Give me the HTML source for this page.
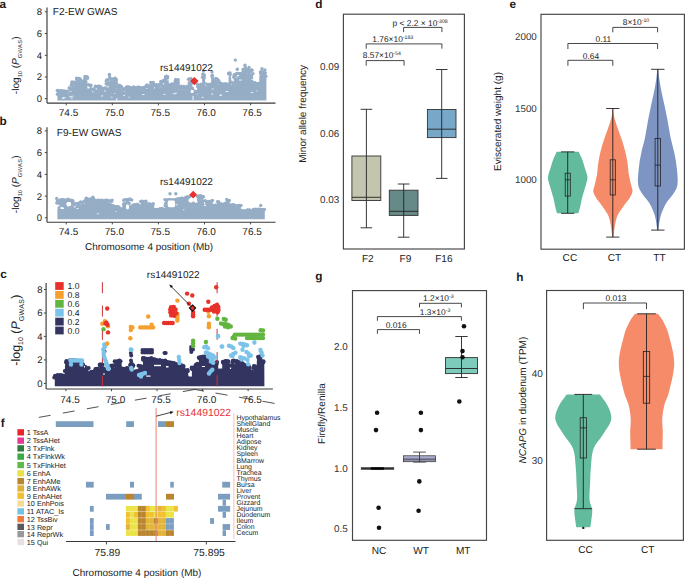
<!DOCTYPE html><html><head><meta charset="utf-8"><style>html,body{margin:0;padding:0;background:#fff;}svg{display:block;}text{font-family:"Liberation Sans",sans-serif;text-rendering:geometricPrecision;}</style></head><body>
<svg width="685" height="578" viewBox="0 0 685 578">
<rect width="685" height="578" fill="#fff"/>
<text x="-0.6" y="8" font-size="11.8" text-anchor="start" fill="#1a1a1a" font-weight="bold">a</text>
<text x="-0.4" y="124.8" font-size="11.8" text-anchor="start" fill="#1a1a1a" font-weight="bold">b</text>
<text x="0.2" y="277.6" font-size="11.8" text-anchor="start" fill="#1a1a1a" font-weight="bold">c</text>
<text x="0.8" y="426.9" font-size="11.8" text-anchor="start" fill="#1a1a1a" font-weight="bold">f</text>
<text x="315.2" y="8.2" font-size="11.8" text-anchor="start" fill="#1a1a1a" font-weight="bold">d</text>
<text x="509.4" y="8.2" font-size="11.8" text-anchor="start" fill="#1a1a1a" font-weight="bold">e</text>
<text x="315.2" y="280.2" font-size="11.8" text-anchor="start" fill="#1a1a1a" font-weight="bold">g</text>
<text x="516.3" y="280.9" font-size="11.8" text-anchor="start" fill="#1a1a1a" font-weight="bold">h</text>
<path d="M57.4,100.6 L57.4,94.3 L68.7,94.3 L68.7,91.4 L71.6,91.4 L71.6,85.5 L76.3,85.5 L76.3,81.4 L79.8,81.4 L79.8,83.8 L83.9,83.8 L83.9,80.3 L87.4,80.3 L87.4,88.4 L92,88.4 L92,92.5 L94.4,92.5 L94.4,89.6 L101.4,89.6 L101.4,91.4 L106.1,91.4 L106.1,83.2 L108.4,83.2 L108.4,77.3 L109.6,77.3 L109.6,82 L116,82 L116,88.4 L121.2,89 L121.2,91.9 L125.9,91.9 L125.9,90.8 L144.9,90.8 L144.9,89 L150.7,89 L150.7,86.1 L154.2,86.1 L154.2,88.4 L161.2,88.4 L161.2,84.4 L164.1,84.4 L164.1,80.3 L168.8,80.3 L168.8,87.8 L175.2,87.8 L175.2,83.2 L178.7,83.2 L178.7,90.2 L188.1,90.2 L188.1,82.6 L192.2,82.6 L192.7,94.4 L197.4,94.4 L197.4,88.4 L202.1,88.4 L202.1,76.8 L205,77.8 L205.5,88 L211.2,88 L211.2,78.3 L213.3,78.3 L213.3,84.9 L216,81.9 L219,84.9 L220.4,87.5 L228.6,87.5 L228.6,76.2 L231.2,76.2 L231.2,85.9 L233.7,85.9 L233.7,77.4 L240.9,77.4 L240.9,75.7 L245,75.7 L245,73.7 L253.1,73.7 L253.1,86.4 L259.3,86.4 L259.3,75.7 L266.4,75.7 L266.4,98.6 L266.4,100.6Z" fill="#96adc6"/>
<g fill="#96adc6"><circle cx="57.3" cy="90.5" r="1.7"/><circle cx="57.4" cy="94.3" r="1.7"/><circle cx="58.3" cy="91" r="1.7"/><circle cx="58.6" cy="91.7" r="1.7"/><circle cx="58.6" cy="94.9" r="1.7"/><circle cx="59.7" cy="90.6" r="1.7"/><circle cx="60.5" cy="92.4" r="1.7"/><circle cx="60.6" cy="93.9" r="1.7"/><circle cx="61.6" cy="90.7" r="1.7"/><circle cx="60.8" cy="92" r="1.7"/><circle cx="62.3" cy="91.1" r="1.7"/><circle cx="62.4" cy="92.3" r="1.7"/><circle cx="62.1" cy="94.1" r="1.7"/><circle cx="64" cy="90.9" r="1.7"/><circle cx="64" cy="92.2" r="1.7"/><circle cx="64.3" cy="94.7" r="1.7"/><circle cx="65" cy="91.1" r="1.7"/><circle cx="65.7" cy="92.5" r="1.7"/><circle cx="65.8" cy="94" r="1.7"/><circle cx="66.4" cy="91.4" r="1.7"/><circle cx="66.5" cy="91.7" r="1.7"/><circle cx="68" cy="91.1" r="1.7"/><circle cx="68" cy="94.6" r="1.7"/><circle cx="69.2" cy="88" r="1.7"/><circle cx="70.4" cy="88.4" r="1.7"/><circle cx="70.6" cy="89.5" r="1.7"/><circle cx="72" cy="81.9" r="1.7"/><circle cx="71.9" cy="82.9" r="1.7"/><circle cx="71.3" cy="85.2" r="1.7"/><circle cx="72.6" cy="82.6" r="1.7"/><circle cx="72.7" cy="83.3" r="1.7"/><circle cx="74" cy="82.1" r="1.7"/><circle cx="74.8" cy="83.8" r="1.7"/><circle cx="75.4" cy="82.1" r="1.7"/><circle cx="76.1" cy="84" r="1.7"/><circle cx="75.2" cy="85.3" r="1.7"/><circle cx="76.7" cy="78.1" r="1.7"/><circle cx="76.6" cy="78.8" r="1.7"/><circle cx="76.7" cy="81.6" r="1.7"/><circle cx="78.6" cy="78.4" r="1.7"/><circle cx="78.3" cy="79.6" r="1.7"/><circle cx="78.7" cy="81.9" r="1.7"/><circle cx="79.8" cy="78.6" r="1.7"/><circle cx="79.4" cy="78.9" r="1.7"/><circle cx="79" cy="81" r="1.7"/><circle cx="80.6" cy="80" r="1.7"/><circle cx="80.3" cy="81.2" r="1.7"/><circle cx="80.3" cy="83.8" r="1.7"/><circle cx="81.7" cy="81.1" r="1.7"/><circle cx="81.7" cy="81.5" r="1.7"/><circle cx="81.9" cy="83.5" r="1.7"/><circle cx="83.7" cy="81.2" r="1.7"/><circle cx="83.4" cy="81.3" r="1.7"/><circle cx="83.2" cy="83.7" r="1.7"/><circle cx="85" cy="76.5" r="1.7"/><circle cx="85.2" cy="78.3" r="1.7"/><circle cx="84.8" cy="79.9" r="1.7"/><circle cx="86" cy="77.7" r="1.7"/><circle cx="87.1" cy="76.8" r="1.7"/><circle cx="87.6" cy="78.3" r="1.7"/><circle cx="88.5" cy="84.7" r="1.7"/><circle cx="90.2" cy="85.6" r="1.7"/><circle cx="91" cy="85.1" r="1.7"/><circle cx="90.6" cy="85.8" r="1.7"/><circle cx="90.9" cy="88.8" r="1.7"/><circle cx="92.9" cy="89.1" r="1.7"/><circle cx="94.2" cy="89" r="1.7"/><circle cx="93.5" cy="90.1" r="1.7"/><circle cx="93.9" cy="93.1" r="1.7"/><circle cx="95.4" cy="86.3" r="1.7"/><circle cx="96.1" cy="86.6" r="1.7"/><circle cx="97.9" cy="86.3" r="1.7"/><circle cx="98" cy="87.4" r="1.7"/><circle cx="99.4" cy="86.2" r="1.7"/><circle cx="99.5" cy="87.8" r="1.7"/><circle cx="98.6" cy="89.3" r="1.7"/><circle cx="100.6" cy="86.8" r="1.7"/><circle cx="100.7" cy="88.1" r="1.7"/><circle cx="101.5" cy="88.2" r="1.7"/><circle cx="101" cy="89.9" r="1.7"/><circle cx="101.6" cy="92.1" r="1.7"/><circle cx="102.8" cy="88.7" r="1.7"/><circle cx="102.6" cy="91.3" r="1.7"/><circle cx="104" cy="88.2" r="1.7"/><circle cx="104.1" cy="88.9" r="1.7"/><circle cx="105.4" cy="88" r="1.7"/><circle cx="106" cy="89.3" r="1.7"/><circle cx="106.8" cy="80" r="1.7"/><circle cx="106.2" cy="81.1" r="1.7"/><circle cx="106.2" cy="83.7" r="1.7"/><circle cx="107.8" cy="79.9" r="1.7"/><circle cx="107.9" cy="83.4" r="1.7"/><circle cx="109.4" cy="74.4" r="1.7"/><circle cx="109.5" cy="75" r="1.7"/><circle cx="109.7" cy="77.5" r="1.7"/><circle cx="110.7" cy="79.1" r="1.7"/><circle cx="110.8" cy="82.2" r="1.7"/><circle cx="112" cy="79" r="1.7"/><circle cx="112" cy="79.9" r="1.7"/><circle cx="113.5" cy="79.3" r="1.7"/><circle cx="113.4" cy="82.7" r="1.7"/><circle cx="114.9" cy="78.2" r="1.7"/><circle cx="114.5" cy="79.4" r="1.7"/><circle cx="114.1" cy="82.4" r="1.7"/><circle cx="116.1" cy="79.3" r="1.7"/><circle cx="116.2" cy="80.2" r="1.7"/><circle cx="116.4" cy="82.7" r="1.7"/><circle cx="117" cy="85.9" r="1.7"/><circle cx="117.2" cy="87.1" r="1.7"/><circle cx="118.2" cy="85.3" r="1.7"/><circle cx="118.3" cy="86.3" r="1.7"/><circle cx="118.8" cy="88.3" r="1.7"/><circle cx="119.8" cy="85.5" r="1.7"/><circle cx="119.6" cy="86.9" r="1.7"/><circle cx="119.3" cy="89.6" r="1.7"/><circle cx="121.3" cy="86.4" r="1.7"/><circle cx="120.8" cy="86.4" r="1.7"/><circle cx="122.2" cy="88.1" r="1.7"/><circle cx="122.9" cy="90.2" r="1.7"/><circle cx="122" cy="92.6" r="1.7"/><circle cx="123.8" cy="88.9" r="1.7"/><circle cx="123.2" cy="90.1" r="1.7"/><circle cx="123.2" cy="92.6" r="1.7"/><circle cx="125.1" cy="89.1" r="1.7"/><circle cx="125.4" cy="89.3" r="1.7"/><circle cx="126.3" cy="87.3" r="1.7"/><circle cx="126.8" cy="88.5" r="1.7"/><circle cx="126.3" cy="90.6" r="1.7"/><circle cx="127.3" cy="87" r="1.7"/><circle cx="127.2" cy="88.5" r="1.7"/><circle cx="127.9" cy="90.7" r="1.7"/><circle cx="128.9" cy="87" r="1.7"/><circle cx="128.3" cy="88.5" r="1.7"/><circle cx="129.2" cy="91" r="1.7"/><circle cx="130" cy="87.5" r="1.7"/><circle cx="130.6" cy="90.9" r="1.7"/><circle cx="131.5" cy="88" r="1.7"/><circle cx="131.5" cy="89" r="1.7"/><circle cx="132.7" cy="88" r="1.7"/><circle cx="132.7" cy="90.8" r="1.7"/><circle cx="133.7" cy="87" r="1.7"/><circle cx="134.4" cy="88.5" r="1.7"/><circle cx="133.6" cy="91.4" r="1.7"/><circle cx="135.7" cy="87.8" r="1.7"/><circle cx="135.1" cy="88.5" r="1.7"/><circle cx="135" cy="90.9" r="1.7"/><circle cx="136.5" cy="88.2" r="1.7"/><circle cx="136.4" cy="91.5" r="1.7"/><circle cx="137.8" cy="87.3" r="1.7"/><circle cx="137.9" cy="88.7" r="1.7"/><circle cx="137.6" cy="91" r="1.7"/><circle cx="138.9" cy="87.2" r="1.7"/><circle cx="139.2" cy="88.2" r="1.7"/><circle cx="139.1" cy="90.6" r="1.7"/><circle cx="140.7" cy="87.6" r="1.7"/><circle cx="142.1" cy="88.1" r="1.7"/><circle cx="141.7" cy="89.3" r="1.7"/><circle cx="142.2" cy="91.1" r="1.7"/><circle cx="142.8" cy="88" r="1.7"/><circle cx="143.5" cy="91.3" r="1.7"/><circle cx="144.2" cy="87.5" r="1.7"/><circle cx="144.9" cy="89.1" r="1.7"/><circle cx="145.9" cy="86.3" r="1.7"/><circle cx="146.9" cy="85" r="1.7"/><circle cx="146.9" cy="86.5" r="1.7"/><circle cx="148.4" cy="85.9" r="1.7"/><circle cx="148.6" cy="86.9" r="1.7"/><circle cx="148.8" cy="89.5" r="1.7"/><circle cx="149.7" cy="85.8" r="1.7"/><circle cx="150" cy="88.9" r="1.7"/><circle cx="150.7" cy="82.5" r="1.7"/><circle cx="151.3" cy="86.8" r="1.7"/><circle cx="152.3" cy="82.6" r="1.7"/><circle cx="152.5" cy="84.4" r="1.7"/><circle cx="152.5" cy="85.8" r="1.7"/><circle cx="153.3" cy="82.4" r="1.7"/><circle cx="153.7" cy="85.7" r="1.7"/><circle cx="154.5" cy="84.8" r="1.7"/><circle cx="156.3" cy="84.8" r="1.7"/><circle cx="156.2" cy="86.3" r="1.7"/><circle cx="156.7" cy="88.2" r="1.7"/><circle cx="157.9" cy="85.8" r="1.7"/><circle cx="157.5" cy="86.7" r="1.7"/><circle cx="158.8" cy="84.8" r="1.7"/><circle cx="159.3" cy="86" r="1.7"/><circle cx="158.4" cy="88.6" r="1.7"/><circle cx="160.5" cy="84.6" r="1.7"/><circle cx="160.6" cy="88.8" r="1.7"/><circle cx="161.2" cy="81.7" r="1.7"/><circle cx="160.8" cy="81.8" r="1.7"/><circle cx="161.3" cy="84.3" r="1.7"/><circle cx="162.4" cy="80.9" r="1.7"/><circle cx="163.1" cy="81.8" r="1.7"/><circle cx="164.3" cy="80.5" r="1.7"/><circle cx="165.6" cy="76.7" r="1.7"/><circle cx="165.2" cy="78.9" r="1.7"/><circle cx="165.1" cy="80.4" r="1.7"/><circle cx="166.4" cy="76.3" r="1.7"/><circle cx="167" cy="78" r="1.7"/><circle cx="167.7" cy="76.7" r="1.7"/><circle cx="167.5" cy="78.1" r="1.7"/><circle cx="169.5" cy="85" r="1.7"/><circle cx="169.7" cy="86.3" r="1.7"/><circle cx="169.5" cy="87.4" r="1.7"/><circle cx="170.7" cy="84.4" r="1.7"/><circle cx="170.2" cy="87.4" r="1.7"/><circle cx="172.1" cy="84" r="1.7"/><circle cx="171.6" cy="85.5" r="1.7"/><circle cx="173.5" cy="84.2" r="1.7"/><circle cx="173.2" cy="87.8" r="1.7"/><circle cx="174.1" cy="84" r="1.7"/><circle cx="174.9" cy="85.8" r="1.7"/><circle cx="174.9" cy="88.6" r="1.7"/><circle cx="175.7" cy="79.4" r="1.7"/><circle cx="175.2" cy="81" r="1.7"/><circle cx="175.4" cy="83.1" r="1.7"/><circle cx="177.1" cy="80.5" r="1.7"/><circle cx="176.9" cy="83.4" r="1.7"/><circle cx="178.2" cy="79.7" r="1.7"/><circle cx="178" cy="81.7" r="1.7"/><circle cx="178.3" cy="83.5" r="1.7"/><circle cx="179.9" cy="86.5" r="1.7"/><circle cx="179.3" cy="88" r="1.7"/><circle cx="180.1" cy="90.8" r="1.7"/><circle cx="181.2" cy="86.2" r="1.7"/><circle cx="181.2" cy="88.6" r="1.7"/><circle cx="181" cy="89.8" r="1.7"/><circle cx="182.1" cy="87.6" r="1.7"/><circle cx="183.9" cy="86.5" r="1.7"/><circle cx="183.1" cy="88.2" r="1.7"/><circle cx="185.2" cy="87.2" r="1.7"/><circle cx="185.1" cy="88.1" r="1.7"/><circle cx="184.2" cy="90.7" r="1.7"/><circle cx="185.9" cy="87.5" r="1.7"/><circle cx="185.9" cy="87.7" r="1.7"/><circle cx="186.3" cy="90.6" r="1.7"/><circle cx="187.1" cy="86.3" r="1.7"/><circle cx="187.5" cy="88" r="1.7"/><circle cx="187.5" cy="89.8" r="1.7"/><circle cx="188.5" cy="79.3" r="1.7"/><circle cx="189.2" cy="82.7" r="1.7"/><circle cx="189.8" cy="78.9" r="1.7"/><circle cx="191.1" cy="78.6" r="1.7"/><circle cx="191.5" cy="80.5" r="1.7"/><circle cx="191.5" cy="83.3" r="1.7"/><circle cx="192.4" cy="88.1" r="1.7"/><circle cx="192.5" cy="90.2" r="1.7"/><circle cx="193" cy="92.5" r="1.7"/><circle cx="193.9" cy="90.7" r="1.7"/><circle cx="194.3" cy="94.2" r="1.7"/><circle cx="195" cy="91.5" r="1.7"/><circle cx="195.7" cy="92.4" r="1.7"/><circle cx="194.9" cy="94.5" r="1.7"/><circle cx="196.6" cy="91.8" r="1.7"/><circle cx="196.4" cy="92" r="1.7"/><circle cx="197.5" cy="84.4" r="1.7"/><circle cx="197.7" cy="86.8" r="1.7"/><circle cx="199.3" cy="85.9" r="1.7"/><circle cx="198.7" cy="89.1" r="1.7"/><circle cx="200.6" cy="84.4" r="1.7"/><circle cx="200.2" cy="88.4" r="1.7"/><circle cx="201.4" cy="84.4" r="1.7"/><circle cx="201.5" cy="86.9" r="1.7"/><circle cx="202.3" cy="88.2" r="1.7"/><circle cx="202.9" cy="74.3" r="1.7"/><circle cx="202.5" cy="77.2" r="1.7"/><circle cx="204.2" cy="74.9" r="1.7"/><circle cx="204.1" cy="76" r="1.7"/><circle cx="204.2" cy="78.1" r="1.7"/><circle cx="205.8" cy="84" r="1.7"/><circle cx="205.1" cy="86.5" r="1.7"/><circle cx="205.9" cy="88.6" r="1.7"/><circle cx="206.8" cy="84.4" r="1.7"/><circle cx="206.6" cy="88.4" r="1.7"/><circle cx="208.1" cy="84.4" r="1.7"/><circle cx="208.5" cy="86.5" r="1.7"/><circle cx="208.7" cy="87.6" r="1.7"/><circle cx="209.3" cy="84.7" r="1.7"/><circle cx="210.7" cy="84.3" r="1.7"/><circle cx="210.8" cy="86.5" r="1.7"/><circle cx="211.2" cy="88.4" r="1.7"/><circle cx="212.4" cy="75.4" r="1.7"/><circle cx="211.9" cy="76" r="1.7"/><circle cx="212.4" cy="78" r="1.7"/><circle cx="213.2" cy="81.9" r="1.7"/><circle cx="212.9" cy="82.2" r="1.7"/><circle cx="213.2" cy="85.5" r="1.7"/><circle cx="215" cy="80.8" r="1.7"/><circle cx="214.2" cy="80.8" r="1.7"/><circle cx="215" cy="83.4" r="1.7"/><circle cx="215.8" cy="78.5" r="1.7"/><circle cx="216.2" cy="80.2" r="1.7"/><circle cx="217.4" cy="79.3" r="1.7"/><circle cx="217.4" cy="83.2" r="1.7"/><circle cx="218.8" cy="80.8" r="1.7"/><circle cx="218.3" cy="82" r="1.7"/><circle cx="220" cy="83" r="1.7"/><circle cx="220.5" cy="84.5" r="1.7"/><circle cx="220.3" cy="86.9" r="1.7"/><circle cx="221.6" cy="83.6" r="1.7"/><circle cx="221.6" cy="85.9" r="1.7"/><circle cx="222.1" cy="83.9" r="1.7"/><circle cx="222.1" cy="86" r="1.7"/><circle cx="223" cy="87.5" r="1.7"/><circle cx="224.1" cy="84.1" r="1.7"/><circle cx="224.1" cy="86" r="1.7"/><circle cx="223.9" cy="87.8" r="1.7"/><circle cx="224.9" cy="84" r="1.7"/><circle cx="224.7" cy="85.2" r="1.7"/><circle cx="225.3" cy="87.3" r="1.7"/><circle cx="226" cy="84" r="1.7"/><circle cx="226.2" cy="87.3" r="1.7"/><circle cx="227.9" cy="84.3" r="1.7"/><circle cx="227.2" cy="85.3" r="1.7"/><circle cx="227.9" cy="87.2" r="1.7"/><circle cx="228.7" cy="73.2" r="1.7"/><circle cx="228.7" cy="73.9" r="1.7"/><circle cx="230.1" cy="73" r="1.7"/><circle cx="230.2" cy="74.6" r="1.7"/><circle cx="231.5" cy="82.2" r="1.7"/><circle cx="231" cy="86.5" r="1.7"/><circle cx="232.8" cy="83.1" r="1.7"/><circle cx="233.4" cy="83.8" r="1.7"/><circle cx="232.3" cy="86.1" r="1.7"/><circle cx="234.3" cy="74.7" r="1.7"/><circle cx="234.3" cy="75.2" r="1.7"/><circle cx="233.8" cy="77.3" r="1.7"/><circle cx="235.5" cy="74.7" r="1.7"/><circle cx="235.5" cy="75.7" r="1.7"/><circle cx="236.6" cy="73.5" r="1.7"/><circle cx="238.1" cy="73.4" r="1.7"/><circle cx="238.6" cy="77.7" r="1.7"/><circle cx="239.7" cy="73.6" r="1.7"/><circle cx="239.3" cy="78" r="1.7"/><circle cx="241" cy="73.6" r="1.7"/><circle cx="240.6" cy="75.4" r="1.7"/><circle cx="240.2" cy="77.3" r="1.7"/><circle cx="242.2" cy="73" r="1.7"/><circle cx="242.1" cy="74" r="1.7"/><circle cx="242.4" cy="75.4" r="1.7"/><circle cx="243.4" cy="72.5" r="1.7"/><circle cx="243.1" cy="73.6" r="1.7"/><circle cx="243.2" cy="76.1" r="1.7"/><circle cx="244.6" cy="72.3" r="1.7"/><circle cx="244.7" cy="73.6" r="1.7"/><circle cx="244.9" cy="76.2" r="1.7"/><circle cx="245.9" cy="69.9" r="1.7"/><circle cx="245.4" cy="71.2" r="1.7"/><circle cx="245.4" cy="73.8" r="1.7"/><circle cx="247.2" cy="69.7" r="1.7"/><circle cx="246.7" cy="71.9" r="1.7"/><circle cx="248.5" cy="69.7" r="1.7"/><circle cx="248.4" cy="72.2" r="1.7"/><circle cx="248.9" cy="74.5" r="1.7"/><circle cx="250" cy="70.9" r="1.7"/><circle cx="250.4" cy="71.7" r="1.7"/><circle cx="251.4" cy="69.9" r="1.7"/><circle cx="252.1" cy="70.2" r="1.7"/><circle cx="252.9" cy="73.6" r="1.7"/><circle cx="254" cy="82.6" r="1.7"/><circle cx="254.2" cy="84" r="1.7"/><circle cx="253.7" cy="86.3" r="1.7"/><circle cx="254.6" cy="82.6" r="1.7"/><circle cx="255.5" cy="84.6" r="1.7"/><circle cx="256" cy="83.5" r="1.7"/><circle cx="256.3" cy="84.5" r="1.7"/><circle cx="256.7" cy="86.6" r="1.7"/><circle cx="257.7" cy="83.7" r="1.7"/><circle cx="258.2" cy="84.5" r="1.7"/><circle cx="258" cy="86.3" r="1.7"/><circle cx="259.3" cy="83.2" r="1.7"/><circle cx="259.2" cy="84.3" r="1.7"/><circle cx="259.2" cy="86" r="1.7"/><circle cx="260.5" cy="72" r="1.7"/><circle cx="260.8" cy="73.8" r="1.7"/><circle cx="261.4" cy="71.7" r="1.7"/><circle cx="261.1" cy="73.8" r="1.7"/><circle cx="261.5" cy="76.3" r="1.7"/><circle cx="262.5" cy="72" r="1.7"/><circle cx="262.2" cy="75.7" r="1.7"/><circle cx="263.8" cy="72.2" r="1.7"/><circle cx="264.2" cy="73.8" r="1.7"/><circle cx="264.2" cy="75.8" r="1.7"/><circle cx="265.1" cy="73.1" r="1.7"/><circle cx="265" cy="73.2" r="1.7"/><circle cx="265.8" cy="76.2" r="1.7"/><circle cx="235.3" cy="60.1" r="1.7"/><circle cx="237.3" cy="69.3" r="1.7"/><circle cx="245" cy="65.2" r="1.7"/><circle cx="245.3" cy="67.5" r="1.7"/><circle cx="203.5" cy="71" r="1.7"/><circle cx="212" cy="72" r="1.7"/><circle cx="243" cy="69.5" r="1.7"/><circle cx="249" cy="67.5" r="1.7"/><circle cx="262" cy="68.8" r="1.7"/><circle cx="265" cy="70" r="1.7"/></g>
<g fill="#fff" opacity="0.85"><rect x="142" y="94.2" width="1.5" height="0.9"/><rect x="62.7" y="97.4" width="1.5" height="0.9"/><rect x="174.6" y="92.7" width="2.5" height="0.9"/><rect x="191.5" y="90.6" width="2.9" height="0.9"/><rect x="250.6" y="92.1" width="2.5" height="0.9"/><rect x="110.8" y="96.7" width="1.7" height="0.9"/><rect x="69.3" y="95.9" width="2.8" height="0.9"/><rect x="142.8" y="94" width="1.7" height="0.9"/><rect x="72.3" y="95.7" width="1.5" height="0.9"/><rect x="62.9" y="97.3" width="2.8" height="0.9"/><rect x="251.4" y="78.9" width="2.3" height="0.9"/><rect x="100.9" y="95.5" width="2.4" height="0.9"/><rect x="163.3" y="93.9" width="2.3" height="0.9"/><rect x="225.5" y="91" width="3" height="0.9"/><rect x="123.2" y="95.1" width="1.9" height="0.9"/><rect x="70.2" y="97.6" width="2.7" height="0.9"/><rect x="219.3" y="95.1" width="2.4" height="0.9"/><rect x="61.7" y="97.8" width="2.7" height="0.9"/><rect x="211.7" y="88.6" width="1.9" height="0.9"/><rect x="211" y="93.6" width="2.4" height="0.9"/><rect x="106.3" y="86.5" width="2.1" height="0.9"/><rect x="107.6" y="85.7" width="1.6" height="0.9"/><rect x="128.5" y="96.8" width="1.4" height="0.9"/><rect x="201.5" y="96.9" width="2.2" height="0.9"/><rect x="204.9" y="84.6" width="1.2" height="0.9"/><rect x="172.8" y="93.4" width="2.8" height="0.9"/><rect x="220.5" y="94" width="1.3" height="0.9"/><rect x="114.3" y="93" width="1.1" height="0.9"/><rect x="256.3" y="90.5" width="1.2" height="0.9"/><rect x="239" y="79.6" width="2.9" height="0.9"/></g>
<rect x="192.6" y="96" width="0.9" height="4" fill="#fff"/>
<rect x="190.8" y="90" width="2.5" height="3" fill="#fff"/>
<rect x="116.2" y="98.5" width="1.2" height="2" fill="#fff"/>
<line x1="47" y1="7.6" x2="47" y2="103.1" stroke="#3a3a3a" stroke-width="1.15" />
<line x1="47" y1="103.1" x2="275.5" y2="103.1" stroke="#3a3a3a" stroke-width="1.15" />
<line x1="44.8" y1="98.7" x2="47" y2="98.7" stroke="#444" stroke-width="1" />
<text x="42" y="102.1" font-size="9.5" text-anchor="end" fill="#222" >0</text>
<line x1="44.8" y1="77" x2="47" y2="77" stroke="#444" stroke-width="1" />
<text x="42" y="80.4" font-size="9.5" text-anchor="end" fill="#222" >2</text>
<line x1="44.8" y1="55.3" x2="47" y2="55.3" stroke="#444" stroke-width="1" />
<text x="42" y="58.7" font-size="9.5" text-anchor="end" fill="#222" >4</text>
<line x1="44.8" y1="33.5" x2="47" y2="33.5" stroke="#444" stroke-width="1" />
<text x="42" y="36.9" font-size="9.5" text-anchor="end" fill="#222" >6</text>
<line x1="44.8" y1="11.8" x2="47" y2="11.8" stroke="#444" stroke-width="1" />
<text x="42" y="15.2" font-size="9.5" text-anchor="end" fill="#222" >8</text>
<line x1="66.2" y1="103.1" x2="66.2" y2="105.3" stroke="#444" stroke-width="1" />
<text x="68.5" y="115.9" font-size="10" text-anchor="middle" fill="#222" >74.5</text>
<line x1="112.3" y1="103.1" x2="112.3" y2="105.3" stroke="#444" stroke-width="1" />
<text x="114.4" y="115.9" font-size="10" text-anchor="middle" fill="#222" >75.0</text>
<line x1="158.4" y1="103.1" x2="158.4" y2="105.3" stroke="#444" stroke-width="1" />
<text x="160.3" y="115.9" font-size="10" text-anchor="middle" fill="#222" >75.5</text>
<line x1="204.5" y1="103.1" x2="204.5" y2="105.3" stroke="#444" stroke-width="1" />
<text x="206.2" y="115.9" font-size="10" text-anchor="middle" fill="#222" >76.0</text>
<line x1="250.6" y1="103.1" x2="250.6" y2="105.3" stroke="#444" stroke-width="1" />
<text x="252.1" y="115.9" font-size="10" text-anchor="middle" fill="#222" >76.5</text>
<text x="52.8" y="15.2" font-size="10.1" text-anchor="start" fill="#222" >F2-EW GWAS</text>
<text x="160" y="70.6" font-size="10" text-anchor="start" fill="#222" >rs14491022</text>
<path d="M194.4,76.9 L198.6,81.1 L194.4,85.3 L190.2,81.1Z" fill="#e8302c"/>
<text transform="translate(18.9,65.3) rotate(-90)" font-size="10.1" text-anchor="middle" fill="#222">-log<tspan font-size="5.7" dy="2.7">10</tspan><tspan dy="-2.7"> (</tspan><tspan font-style="italic">P</tspan><tspan font-size="5.7" dy="3" letter-spacing="0.3">GWAS</tspan><tspan dy="-3">)</tspan></text>
<path d="M57.4,219.2 L57.4,208.9 L59.3,208.9 L60.5,208.9 L73.4,208.9 L73.4,208.9 L76.9,204.7 L80,204.2 L85,204.2 L85,204.2 L92,199.5 L92,199.5 L93.5,199.5 L94.4,199.8 L113,204.2 L113,205.6 L117.7,208.9 L120,208.9 L123.6,208.9 L123.6,208.9 L132,204.5 L132,204.5 L140.2,204.5 L140.2,204.5 L146,204 L146,204 L154.2,204 L154.2,208.5 L164.7,208.5 L164.7,205.1 L176.4,200 L176.4,200 L185.7,200 L185.7,200 L190.4,200 L190.4,203.3 L197.4,203.3 L197.4,200 L204.1,200.1 L204.1,205.6 L205.3,205.6 L205.3,201 L212.8,201 L212.8,204.4 L216.9,204.4 L216.9,201.5 L219.9,201.5 L219.9,203.5 L225.7,203.5 L225.7,201 L229.8,201 L229.8,204.4 L233.9,204.4 L233.9,205 L240.9,205 L240.9,209.7 L253.7,209.7 L253.7,209.1 L264.8,209.1 L264.8,219.4 L264.8,219.2Z" fill="#96adc6"/>
<g fill="#96adc6"><circle cx="57.3" cy="201.1" r="1.7"/><circle cx="56.8" cy="203.1" r="1.7"/><circle cx="58.4" cy="201.7" r="1.7"/><circle cx="59.1" cy="203.2" r="1.7"/><circle cx="59.1" cy="207.8" r="1.7"/><circle cx="59.7" cy="200.2" r="1.7"/><circle cx="59.4" cy="202.3" r="1.7"/><circle cx="61.4" cy="199.6" r="1.7"/><circle cx="60.8" cy="201.5" r="1.7"/><circle cx="61.1" cy="203.3" r="1.7"/><circle cx="61" cy="205.3" r="1.7"/><circle cx="62.5" cy="199.6" r="1.7"/><circle cx="63" cy="203.5" r="1.7"/><circle cx="62.5" cy="205.5" r="1.7"/><circle cx="63.8" cy="200.2" r="1.7"/><circle cx="63.6" cy="201.6" r="1.7"/><circle cx="64.3" cy="203" r="1.7"/><circle cx="63.5" cy="205.9" r="1.7"/><circle cx="64.8" cy="199.9" r="1.7"/><circle cx="65.6" cy="200.8" r="1.7"/><circle cx="65" cy="203.8" r="1.7"/><circle cx="65.7" cy="205.3" r="1.7"/><circle cx="65.4" cy="207.8" r="1.7"/><circle cx="66.2" cy="200.1" r="1.7"/><circle cx="66.8" cy="201.4" r="1.7"/><circle cx="66.4" cy="207.6" r="1.7"/><circle cx="68.1" cy="199.3" r="1.7"/><circle cx="67.4" cy="203.1" r="1.7"/><circle cx="67.7" cy="208.2" r="1.7"/><circle cx="68.9" cy="199.9" r="1.7"/><circle cx="69.4" cy="201.5" r="1.7"/><circle cx="68.9" cy="205.1" r="1.7"/><circle cx="70.5" cy="200.3" r="1.7"/><circle cx="70.3" cy="201.5" r="1.7"/><circle cx="70" cy="203.3" r="1.7"/><circle cx="70" cy="207.5" r="1.7"/><circle cx="71.9" cy="200.4" r="1.7"/><circle cx="71.3" cy="200.9" r="1.7"/><circle cx="71.7" cy="203" r="1.7"/><circle cx="71.3" cy="206.1" r="1.7"/><circle cx="72.7" cy="200.6" r="1.7"/><circle cx="72.9" cy="201.7" r="1.7"/><circle cx="72.6" cy="207.9" r="1.7"/><circle cx="74" cy="203.6" r="1.7"/><circle cx="73.7" cy="205.1" r="1.7"/><circle cx="75.8" cy="204" r="1.7"/><circle cx="76.9" cy="203.5" r="1.7"/><circle cx="78.1" cy="203.8" r="1.7"/><circle cx="79.4" cy="202.9" r="1.7"/><circle cx="80.7" cy="202" r="1.7"/><circle cx="82.4" cy="202.4" r="1.7"/><circle cx="83.7" cy="201.9" r="1.7"/><circle cx="83.2" cy="205.2" r="1.7"/><circle cx="84.4" cy="201.1" r="1.7"/><circle cx="86.1" cy="198.3" r="1.7"/><circle cx="85.9" cy="200.1" r="1.7"/><circle cx="86.2" cy="202.7" r="1.7"/><circle cx="86.2" cy="204.7" r="1.7"/><circle cx="87.2" cy="198.7" r="1.7"/><circle cx="87.4" cy="201.8" r="1.7"/><circle cx="88.8" cy="199.4" r="1.7"/><circle cx="88.1" cy="200" r="1.7"/><circle cx="88.9" cy="202.2" r="1.7"/><circle cx="90" cy="199.2" r="1.7"/><circle cx="89.8" cy="200.5" r="1.7"/><circle cx="91" cy="199" r="1.7"/><circle cx="91.5" cy="199.5" r="1.7"/><circle cx="92.9" cy="197.2" r="1.7"/><circle cx="92.2" cy="198.5" r="1.7"/><circle cx="93.4" cy="198.8" r="1.7"/><circle cx="94" cy="200" r="1.7"/><circle cx="94.9" cy="200.1" r="1.7"/><circle cx="96.6" cy="201.2" r="1.7"/><circle cx="97.7" cy="200.1" r="1.7"/><circle cx="99.2" cy="200.3" r="1.7"/><circle cx="98.6" cy="202.1" r="1.7"/><circle cx="100.5" cy="200.7" r="1.7"/><circle cx="100.4" cy="201.4" r="1.7"/><circle cx="102" cy="200.3" r="1.7"/><circle cx="103.2" cy="201" r="1.7"/><circle cx="102.7" cy="201.8" r="1.7"/><circle cx="103.9" cy="201" r="1.7"/><circle cx="104.6" cy="201.5" r="1.7"/><circle cx="105.4" cy="200.1" r="1.7"/><circle cx="105.1" cy="201.2" r="1.7"/><circle cx="107" cy="200.2" r="1.7"/><circle cx="106.6" cy="201.7" r="1.7"/><circle cx="108" cy="200.7" r="1.7"/><circle cx="108.6" cy="204.4" r="1.7"/><circle cx="109" cy="201" r="1.7"/><circle cx="110.4" cy="201" r="1.7"/><circle cx="110.1" cy="204.5" r="1.7"/><circle cx="112.1" cy="200.1" r="1.7"/><circle cx="111.6" cy="201.4" r="1.7"/><circle cx="113.2" cy="205.8" r="1.7"/><circle cx="114.9" cy="206.7" r="1.7"/><circle cx="115.1" cy="207.7" r="1.7"/><circle cx="116.1" cy="206.6" r="1.7"/><circle cx="117.4" cy="206.8" r="1.7"/><circle cx="117.4" cy="207.6" r="1.7"/><circle cx="118.7" cy="207" r="1.7"/><circle cx="119.8" cy="208.1" r="1.7"/><circle cx="119.4" cy="209.7" r="1.7"/><circle cx="120.7" cy="208.6" r="1.7"/><circle cx="121.1" cy="209.9" r="1.7"/><circle cx="122.4" cy="209.2" r="1.7"/><circle cx="122.8" cy="209.8" r="1.7"/><circle cx="123.8" cy="200.2" r="1.7"/><circle cx="123.6" cy="203.9" r="1.7"/><circle cx="123.9" cy="205.7" r="1.7"/><circle cx="123.8" cy="208" r="1.7"/><circle cx="125.3" cy="199.6" r="1.7"/><circle cx="125" cy="203.7" r="1.7"/><circle cx="125.3" cy="205.6" r="1.7"/><circle cx="125.4" cy="207.5" r="1.7"/><circle cx="126.3" cy="199.8" r="1.7"/><circle cx="126.2" cy="203.1" r="1.7"/><circle cx="126.7" cy="205.1" r="1.7"/><circle cx="127.5" cy="199.6" r="1.7"/><circle cx="127.6" cy="201.4" r="1.7"/><circle cx="127.4" cy="207.2" r="1.7"/><circle cx="129" cy="199.7" r="1.7"/><circle cx="129.2" cy="203.4" r="1.7"/><circle cx="128.4" cy="204.9" r="1.7"/><circle cx="129.8" cy="199" r="1.7"/><circle cx="131.7" cy="200" r="1.7"/><circle cx="133" cy="205.3" r="1.7"/><circle cx="134.2" cy="204.7" r="1.7"/><circle cx="135.5" cy="205" r="1.7"/><circle cx="136.9" cy="204.5" r="1.7"/><circle cx="137.7" cy="204.4" r="1.7"/><circle cx="139.5" cy="205.7" r="1.7"/><circle cx="140.7" cy="201.4" r="1.7"/><circle cx="141.9" cy="201.2" r="1.7"/><circle cx="141.8" cy="202.6" r="1.7"/><circle cx="142.1" cy="205.6" r="1.7"/><circle cx="142.8" cy="201.7" r="1.7"/><circle cx="142.7" cy="203.2" r="1.7"/><circle cx="143.7" cy="205" r="1.7"/><circle cx="144.1" cy="201.4" r="1.7"/><circle cx="145" cy="203.4" r="1.7"/><circle cx="144.4" cy="204.6" r="1.7"/><circle cx="145.9" cy="201.2" r="1.7"/><circle cx="145.2" cy="202.3" r="1.7"/><circle cx="147.2" cy="203.9" r="1.7"/><circle cx="148.8" cy="203.9" r="1.7"/><circle cx="150" cy="204" r="1.7"/><circle cx="150.6" cy="204.8" r="1.7"/><circle cx="152.1" cy="204.9" r="1.7"/><circle cx="153.3" cy="203.8" r="1.7"/><circle cx="155.1" cy="209.5" r="1.7"/><circle cx="156.5" cy="209.6" r="1.7"/><circle cx="157.2" cy="209.4" r="1.7"/><circle cx="159" cy="209.2" r="1.7"/><circle cx="160.4" cy="208.8" r="1.7"/><circle cx="161.8" cy="209.5" r="1.7"/><circle cx="162.3" cy="208.5" r="1.7"/><circle cx="164.1" cy="209.7" r="1.7"/><circle cx="165" cy="199.6" r="1.7"/><circle cx="165.7" cy="203.3" r="1.7"/><circle cx="165.1" cy="205.6" r="1.7"/><circle cx="166.6" cy="200.2" r="1.7"/><circle cx="167" cy="201" r="1.7"/><circle cx="168" cy="199.8" r="1.7"/><circle cx="168.2" cy="201.7" r="1.7"/><circle cx="169.3" cy="199.6" r="1.7"/><circle cx="169.8" cy="201.4" r="1.7"/><circle cx="170.4" cy="200.1" r="1.7"/><circle cx="171.9" cy="199.6" r="1.7"/><circle cx="172.3" cy="201" r="1.7"/><circle cx="173.2" cy="200.1" r="1.7"/><circle cx="174.6" cy="199.6" r="1.7"/><circle cx="174.1" cy="201.1" r="1.7"/><circle cx="175.8" cy="200.4" r="1.7"/><circle cx="176.6" cy="199.2" r="1.7"/><circle cx="178.6" cy="198.8" r="1.7"/><circle cx="178.7" cy="200.3" r="1.7"/><circle cx="179.7" cy="199.3" r="1.7"/><circle cx="179.1" cy="200" r="1.7"/><circle cx="181.1" cy="198.3" r="1.7"/><circle cx="182.5" cy="198.3" r="1.7"/><circle cx="183.6" cy="198.7" r="1.7"/><circle cx="183.2" cy="200.3" r="1.7"/><circle cx="185" cy="198.6" r="1.7"/><circle cx="185.2" cy="200.3" r="1.7"/><circle cx="185.9" cy="197.1" r="1.7"/><circle cx="187.4" cy="197" r="1.7"/><circle cx="187" cy="197.9" r="1.7"/><circle cx="187.6" cy="200.3" r="1.7"/><circle cx="188.8" cy="196.9" r="1.7"/><circle cx="188.3" cy="197.7" r="1.7"/><circle cx="189.9" cy="196.4" r="1.7"/><circle cx="191" cy="204.2" r="1.7"/><circle cx="192.5" cy="204" r="1.7"/><circle cx="193.5" cy="203.3" r="1.7"/><circle cx="195.6" cy="204.6" r="1.7"/><circle cx="196.5" cy="204.1" r="1.7"/><circle cx="197.6" cy="196.3" r="1.7"/><circle cx="198.3" cy="197.4" r="1.7"/><circle cx="199.5" cy="195.6" r="1.7"/><circle cx="198.7" cy="196.8" r="1.7"/><circle cx="198.6" cy="199.5" r="1.7"/><circle cx="200.7" cy="196" r="1.7"/><circle cx="201.4" cy="196.3" r="1.7"/><circle cx="201.2" cy="198" r="1.7"/><circle cx="201.8" cy="199.8" r="1.7"/><circle cx="203.4" cy="196.6" r="1.7"/><circle cx="202.9" cy="197.2" r="1.7"/><circle cx="204.7" cy="205.9" r="1.7"/><circle cx="205.2" cy="200.7" r="1.7"/><circle cx="206.8" cy="201.7" r="1.7"/><circle cx="208.5" cy="201.6" r="1.7"/><circle cx="209.1" cy="201.5" r="1.7"/><circle cx="211" cy="201.3" r="1.7"/><circle cx="212.5" cy="200.4" r="1.7"/><circle cx="213.1" cy="205.5" r="1.7"/><circle cx="215.1" cy="205.4" r="1.7"/><circle cx="215.8" cy="205.2" r="1.7"/><circle cx="217.5" cy="201.6" r="1.7"/><circle cx="218.5" cy="201.8" r="1.7"/><circle cx="219.6" cy="204.2" r="1.7"/><circle cx="220.9" cy="203.8" r="1.7"/><circle cx="222.2" cy="204.5" r="1.7"/><circle cx="223.4" cy="204.5" r="1.7"/><circle cx="224.9" cy="203.5" r="1.7"/><circle cx="226.7" cy="199.5" r="1.7"/><circle cx="228" cy="200.5" r="1.7"/><circle cx="227.6" cy="200.7" r="1.7"/><circle cx="229.3" cy="200.4" r="1.7"/><circle cx="230.3" cy="204.9" r="1.7"/><circle cx="231.9" cy="205.1" r="1.7"/><circle cx="233" cy="204.6" r="1.7"/><circle cx="234" cy="205" r="1.7"/><circle cx="235.7" cy="205.8" r="1.7"/><circle cx="236.5" cy="206.3" r="1.7"/><circle cx="237.9" cy="205.6" r="1.7"/><circle cx="239.1" cy="205.4" r="1.7"/><circle cx="241" cy="205.5" r="1.7"/><circle cx="241.7" cy="210.4" r="1.7"/><circle cx="243.2" cy="211" r="1.7"/><circle cx="244.3" cy="211.1" r="1.7"/><circle cx="245.5" cy="211" r="1.7"/><circle cx="247.3" cy="210" r="1.7"/><circle cx="248.5" cy="210.1" r="1.7"/><circle cx="249.6" cy="210" r="1.7"/><circle cx="251" cy="211.1" r="1.7"/><circle cx="252.8" cy="211" r="1.7"/><circle cx="253.4" cy="209.5" r="1.7"/><circle cx="255.3" cy="209.1" r="1.7"/><circle cx="256.5" cy="209.5" r="1.7"/><circle cx="258" cy="209.1" r="1.7"/><circle cx="259.1" cy="209.6" r="1.7"/><circle cx="259.9" cy="209.1" r="1.7"/><circle cx="261.8" cy="209.8" r="1.7"/><circle cx="262.5" cy="209.7" r="1.7"/><circle cx="264.4" cy="209.4" r="1.7"/><circle cx="56.7" cy="198.5" r="1.7"/><circle cx="170" cy="193.7" r="1.7"/><circle cx="175.8" cy="193.7" r="1.7"/><circle cx="260.7" cy="205.4" r="1.7"/></g>
<g fill="#fff" opacity="0.85"><rect x="175.5" y="204.4" width="2.2" height="0.9"/><rect x="96.7" y="213.4" width="2.4" height="0.9"/><rect x="203.7" y="205" width="2.6" height="0.9"/><rect x="76.4" y="208.1" width="2.2" height="0.9"/><rect x="183" y="209.3" width="1.4" height="0.9"/><rect x="115.6" y="210.9" width="1.1" height="0.9"/></g>
<rect x="167.8" y="200.6" width="7.2" height="6.6" rx="1.4" fill="#fff"/>
<rect x="66.5" y="202" width="4.5" height="4.2" rx="1.4" fill="#fff"/>
<rect x="188.5" y="198.8" width="3.5" height="3.5" rx="1.4" fill="#fff"/>
<rect x="126" y="204.5" width="3" height="5" rx="1.4" fill="#fff"/>
<line x1="47" y1="127.2" x2="47" y2="222.2" stroke="#3a3a3a" stroke-width="1.15" />
<line x1="47" y1="222.2" x2="275.5" y2="222.2" stroke="#3a3a3a" stroke-width="1.15" />
<line x1="44.8" y1="217.8" x2="47" y2="217.8" stroke="#444" stroke-width="1" />
<text x="42" y="221.2" font-size="9.5" text-anchor="end" fill="#222" >0</text>
<line x1="44.8" y1="196.1" x2="47" y2="196.1" stroke="#444" stroke-width="1" />
<text x="42" y="199.5" font-size="9.5" text-anchor="end" fill="#222" >2</text>
<line x1="44.8" y1="174.4" x2="47" y2="174.4" stroke="#444" stroke-width="1" />
<text x="42" y="177.8" font-size="9.5" text-anchor="end" fill="#222" >4</text>
<line x1="44.8" y1="152.6" x2="47" y2="152.6" stroke="#444" stroke-width="1" />
<text x="42" y="156" font-size="9.5" text-anchor="end" fill="#222" >6</text>
<line x1="44.8" y1="130.9" x2="47" y2="130.9" stroke="#444" stroke-width="1" />
<text x="42" y="134.3" font-size="9.5" text-anchor="end" fill="#222" >8</text>
<line x1="66.2" y1="222.2" x2="66.2" y2="224.4" stroke="#444" stroke-width="1" />
<text x="68.5" y="235" font-size="10" text-anchor="middle" fill="#222" >74.5</text>
<line x1="112.3" y1="222.2" x2="112.3" y2="224.4" stroke="#444" stroke-width="1" />
<text x="114.4" y="235" font-size="10" text-anchor="middle" fill="#222" >75.0</text>
<line x1="158.4" y1="222.2" x2="158.4" y2="224.4" stroke="#444" stroke-width="1" />
<text x="160.3" y="235" font-size="10" text-anchor="middle" fill="#222" >75.5</text>
<line x1="204.5" y1="222.2" x2="204.5" y2="224.4" stroke="#444" stroke-width="1" />
<text x="206.2" y="235" font-size="10" text-anchor="middle" fill="#222" >76.0</text>
<line x1="250.6" y1="222.2" x2="250.6" y2="224.4" stroke="#444" stroke-width="1" />
<text x="252.1" y="235" font-size="10" text-anchor="middle" fill="#222" >76.5</text>
<text x="56.8" y="136.3" font-size="10.1" text-anchor="start" fill="#222" >F9-EW GWAS</text>
<text x="160" y="184.8" font-size="10" text-anchor="start" fill="#222" >rs14491022</text>
<path d="M193.2,190.8 L197.1,194.7 L193.2,198.6 L189.3,194.7Z" fill="#e8302c"/>
<text transform="translate(18.9,184.3) rotate(-90)" font-size="10.1" text-anchor="middle" fill="#222">-log<tspan font-size="5.7" dy="2.7">10</tspan><tspan dy="-2.7"> (</tspan><tspan font-style="italic">P</tspan><tspan font-size="5.7" dy="3" letter-spacing="0.3">GWAS</tspan><tspan dy="-3">)</tspan></text>
<text x="85" y="250.3" font-size="9.95" text-anchor="start" fill="#222" >Chromosome 4 position (Mb)</text>
<rect x="55.2" y="282.1" width="8.5" height="7.8" fill="#e8312a" />
<text x="67.6" y="289.3" font-size="8.6" text-anchor="start" fill="#222" >1.0</text>
<rect x="55.2" y="291" width="8.5" height="7.8" fill="#f5a02e" />
<text x="67.6" y="298.2" font-size="8.6" text-anchor="start" fill="#222" >0.8</text>
<rect x="55.2" y="299.9" width="8.5" height="7.8" fill="#62b53e" />
<text x="67.6" y="307.1" font-size="8.6" text-anchor="start" fill="#222" >0.6</text>
<rect x="55.2" y="308.8" width="8.5" height="7.8" fill="#7cc3ea" />
<text x="67.6" y="316" font-size="8.6" text-anchor="start" fill="#222" >0.4</text>
<rect x="55.2" y="317.7" width="8.5" height="7.8" fill="#333560" />
<text x="67.6" y="324.9" font-size="8.6" text-anchor="start" fill="#222" >0.2</text>
<rect x="55.2" y="326.6" width="8.5" height="7.8" fill="#333560" />
<text x="67.6" y="333.8" font-size="8.6" text-anchor="start" fill="#222" >0.0</text>
<path d="M54.8,386.2 L54.8,378.1 L64.4,377.4 L65.2,363.2 L82.4,363.2 L83.3,370 L88.5,370 L89,374.4 L93.8,374.4 L94.5,371.6 L99,371.6 L99.5,366.6 L102.5,366.6 L105,373.6 L110.3,374.4 L110.8,367.4 L114.6,367.4 L115,363 L121.6,363 L122,370.9 L129.5,370.9 L130,366.6 L133.9,367.6 L134.2,373.5 L137.4,373.5 L137.8,368.2 L142.7,368.2 L143,360.8 L152.3,360.8 L153,362.1 L165,363 L172.3,365.6 L184.5,368.2 L185,372.6 L188,372.6 L189,380.1 L191.5,380.1 L192,370 L195,370 L195.5,366.5 L198.5,366.5 L199,359.5 L205.5,359.5 L210,364.6 L215,364.7 L218.1,364.7 L218.5,373 L222,373 L222.3,363.6 L229.5,363.6 L230,368.9 L231.1,368.9 L231.5,363.6 L239.9,363.6 L244,366.6 L250.3,368.9 L250.6,374 L253.4,374 L253.6,368.9 L256.5,368.9 L257,358.5 L260.7,358.5 L261,363.6 L264.3,363.6 L264.4,384.2 L264.4,386.2Z" fill="#333560"/>
<g fill="#333560"><circle cx="55" cy="375.7" r="2.0"/><circle cx="54.3" cy="377.5" r="2.0"/><circle cx="56.1" cy="376.3" r="2.0"/><circle cx="57.6" cy="374.9" r="2.0"/><circle cx="59" cy="376.1" r="2.0"/><circle cx="58.6" cy="377.2" r="2.0"/><circle cx="60.3" cy="374.9" r="2.0"/><circle cx="60.5" cy="376.1" r="2.0"/><circle cx="61.8" cy="375.3" r="2.0"/><circle cx="61.3" cy="376.8" r="2.0"/><circle cx="63.5" cy="375.8" r="2.0"/><circle cx="63.5" cy="376.3" r="2.0"/><circle cx="64.8" cy="370.9" r="2.0"/><circle cx="66.4" cy="360.9" r="2.0"/><circle cx="66" cy="362.2" r="2.0"/><circle cx="67" cy="361.7" r="2.0"/><circle cx="67" cy="361.7" r="2.0"/><circle cx="68.6" cy="361.4" r="2.0"/><circle cx="68.3" cy="362.4" r="2.0"/><circle cx="70" cy="360.2" r="2.0"/><circle cx="70.3" cy="362.2" r="2.0"/><circle cx="71.8" cy="360.4" r="2.0"/><circle cx="73.2" cy="360.3" r="2.0"/><circle cx="73" cy="362.2" r="2.0"/><circle cx="74.2" cy="360.4" r="2.0"/><circle cx="74" cy="362.3" r="2.0"/><circle cx="76.1" cy="360.4" r="2.0"/><circle cx="76.1" cy="361.8" r="2.0"/><circle cx="77.5" cy="361.6" r="2.0"/><circle cx="77.1" cy="362.6" r="2.0"/><circle cx="78.6" cy="360.8" r="2.0"/><circle cx="80.2" cy="360.7" r="2.0"/><circle cx="79.8" cy="362.1" r="2.0"/><circle cx="81.8" cy="361.4" r="2.0"/><circle cx="83.1" cy="364.5" r="2.0"/><circle cx="82.8" cy="365.8" r="2.0"/><circle cx="84.5" cy="367.4" r="2.0"/><circle cx="84.4" cy="368.8" r="2.0"/><circle cx="85.6" cy="367.1" r="2.0"/><circle cx="85.6" cy="368.4" r="2.0"/><circle cx="86.7" cy="368.5" r="2.0"/><circle cx="88.7" cy="367.9" r="2.0"/><circle cx="90.1" cy="372.7" r="2.0"/><circle cx="90" cy="373.1" r="2.0"/><circle cx="91.3" cy="371.8" r="2.0"/><circle cx="91.7" cy="373.5" r="2.0"/><circle cx="92.4" cy="372.2" r="2.0"/><circle cx="93.1" cy="373.1" r="2.0"/><circle cx="93.8" cy="371.6" r="2.0"/><circle cx="94.1" cy="373.1" r="2.0"/><circle cx="95.4" cy="369" r="2.0"/><circle cx="95.4" cy="370.2" r="2.0"/><circle cx="96.5" cy="368.8" r="2.0"/><circle cx="96.7" cy="370.3" r="2.0"/><circle cx="98" cy="368.7" r="2.0"/><circle cx="98.6" cy="370.7" r="2.0"/><circle cx="99.7" cy="364.6" r="2.0"/><circle cx="99.9" cy="365.6" r="2.0"/><circle cx="101" cy="364.5" r="2.0"/><circle cx="100.8" cy="365.3" r="2.0"/><circle cx="102.2" cy="364.4" r="2.0"/><circle cx="102.5" cy="365" r="2.0"/><circle cx="103.7" cy="368.5" r="2.0"/><circle cx="103.9" cy="369.2" r="2.0"/><circle cx="105" cy="372.1" r="2.0"/><circle cx="105.5" cy="372.2" r="2.0"/><circle cx="106.3" cy="372.1" r="2.0"/><circle cx="106.1" cy="372.7" r="2.0"/><circle cx="108" cy="372.2" r="2.0"/><circle cx="107.7" cy="373.6" r="2.0"/><circle cx="109.6" cy="371.5" r="2.0"/><circle cx="109.2" cy="373.5" r="2.0"/><circle cx="110.9" cy="365.7" r="2.0"/><circle cx="112.2" cy="365.5" r="2.0"/><circle cx="112.5" cy="366.4" r="2.0"/><circle cx="113.8" cy="365.5" r="2.0"/><circle cx="114.7" cy="361.3" r="2.0"/><circle cx="115.3" cy="362.1" r="2.0"/><circle cx="116.4" cy="361.4" r="2.0"/><circle cx="116.3" cy="362.3" r="2.0"/><circle cx="118.1" cy="360.9" r="2.0"/><circle cx="117.7" cy="361.9" r="2.0"/><circle cx="119.4" cy="360.4" r="2.0"/><circle cx="119.3" cy="361.9" r="2.0"/><circle cx="120.5" cy="361.2" r="2.0"/><circle cx="122" cy="368.6" r="2.0"/><circle cx="121.8" cy="369.5" r="2.0"/><circle cx="123.5" cy="368.8" r="2.0"/><circle cx="123.9" cy="369.7" r="2.0"/><circle cx="125.1" cy="369.2" r="2.0"/><circle cx="126" cy="368.5" r="2.0"/><circle cx="127.2" cy="368" r="2.0"/><circle cx="127.6" cy="370.4" r="2.0"/><circle cx="129.2" cy="368.7" r="2.0"/><circle cx="130.4" cy="364.5" r="2.0"/><circle cx="130.3" cy="365.5" r="2.0"/><circle cx="131.9" cy="364.6" r="2.0"/><circle cx="133.3" cy="365.2" r="2.0"/><circle cx="133" cy="366.3" r="2.0"/><circle cx="134.6" cy="371.4" r="2.0"/><circle cx="136.4" cy="371.2" r="2.0"/><circle cx="136.1" cy="373.1" r="2.0"/><circle cx="137.3" cy="371.3" r="2.0"/><circle cx="138.5" cy="365.7" r="2.0"/><circle cx="140.5" cy="366" r="2.0"/><circle cx="140.7" cy="367.4" r="2.0"/><circle cx="141.9" cy="366.7" r="2.0"/><circle cx="142.9" cy="358" r="2.0"/><circle cx="143" cy="359.8" r="2.0"/><circle cx="144.2" cy="358.1" r="2.0"/><circle cx="144.5" cy="359.6" r="2.0"/><circle cx="146.2" cy="358.8" r="2.0"/><circle cx="145.7" cy="360.1" r="2.0"/><circle cx="147" cy="358.8" r="2.0"/><circle cx="147" cy="360.2" r="2.0"/><circle cx="148.7" cy="358.8" r="2.0"/><circle cx="148.6" cy="359.9" r="2.0"/><circle cx="149.8" cy="358.8" r="2.0"/><circle cx="150.6" cy="359.9" r="2.0"/><circle cx="151.3" cy="358" r="2.0"/><circle cx="151.7" cy="359.3" r="2.0"/><circle cx="152.5" cy="359" r="2.0"/><circle cx="153.2" cy="360.9" r="2.0"/><circle cx="154.4" cy="359.3" r="2.0"/><circle cx="154.5" cy="361" r="2.0"/><circle cx="155.8" cy="359.8" r="2.0"/><circle cx="155.3" cy="360.8" r="2.0"/><circle cx="157.3" cy="360.3" r="2.0"/><circle cx="156.9" cy="361.3" r="2.0"/><circle cx="158" cy="360.8" r="2.0"/><circle cx="159" cy="361.4" r="2.0"/><circle cx="159.9" cy="360" r="2.0"/><circle cx="160.3" cy="362" r="2.0"/><circle cx="161.1" cy="361.1" r="2.0"/><circle cx="162.4" cy="360.7" r="2.0"/><circle cx="164" cy="361.3" r="2.0"/><circle cx="163.9" cy="362.2" r="2.0"/><circle cx="165.2" cy="360.6" r="2.0"/><circle cx="166.8" cy="361.8" r="2.0"/><circle cx="166.4" cy="362.5" r="2.0"/><circle cx="167.9" cy="362.6" r="2.0"/><circle cx="168.3" cy="362.7" r="2.0"/><circle cx="169.6" cy="362.2" r="2.0"/><circle cx="169.1" cy="363.2" r="2.0"/><circle cx="171.3" cy="362.7" r="2.0"/><circle cx="170.6" cy="363.9" r="2.0"/><circle cx="172.2" cy="362.7" r="2.0"/><circle cx="172.2" cy="364.2" r="2.0"/><circle cx="174" cy="363.1" r="2.0"/><circle cx="174.2" cy="364.5" r="2.0"/><circle cx="175.2" cy="364.5" r="2.0"/><circle cx="176.3" cy="364" r="2.0"/><circle cx="176.5" cy="366.1" r="2.0"/><circle cx="177.8" cy="365.2" r="2.0"/><circle cx="177.7" cy="365.8" r="2.0"/><circle cx="179.1" cy="365.2" r="2.0"/><circle cx="179.9" cy="366.2" r="2.0"/><circle cx="180.7" cy="364.8" r="2.0"/><circle cx="180.5" cy="366.9" r="2.0"/><circle cx="181.9" cy="365.5" r="2.0"/><circle cx="181.9" cy="367" r="2.0"/><circle cx="183.5" cy="366" r="2.0"/><circle cx="183.4" cy="366.9" r="2.0"/><circle cx="184.7" cy="369.9" r="2.0"/><circle cx="186.3" cy="370.6" r="2.0"/><circle cx="186.5" cy="371.4" r="2.0"/><circle cx="187.8" cy="370" r="2.0"/><circle cx="187.6" cy="371.3" r="2.0"/><circle cx="188.9" cy="378.2" r="2.0"/><circle cx="189.1" cy="379.6" r="2.0"/><circle cx="190.8" cy="378.4" r="2.0"/><circle cx="191.7" cy="367.4" r="2.0"/><circle cx="192.2" cy="369.2" r="2.0"/><circle cx="193.3" cy="367.6" r="2.0"/><circle cx="193.6" cy="368.7" r="2.0"/><circle cx="195.1" cy="367.5" r="2.0"/><circle cx="194.4" cy="368.5" r="2.0"/><circle cx="196.5" cy="364.6" r="2.0"/><circle cx="195.6" cy="364.9" r="2.0"/><circle cx="197.3" cy="363.8" r="2.0"/><circle cx="197.5" cy="364.9" r="2.0"/><circle cx="198.8" cy="357.5" r="2.0"/><circle cx="199.4" cy="358.6" r="2.0"/><circle cx="200.6" cy="356.9" r="2.0"/><circle cx="200.6" cy="358.3" r="2.0"/><circle cx="201.4" cy="357.8" r="2.0"/><circle cx="203" cy="356.6" r="2.0"/><circle cx="204.7" cy="356.6" r="2.0"/><circle cx="204.1" cy="358.8" r="2.0"/><circle cx="205.8" cy="358.4" r="2.0"/><circle cx="205.5" cy="359.3" r="2.0"/><circle cx="207.3" cy="359.8" r="2.0"/><circle cx="208.6" cy="360.4" r="2.0"/><circle cx="210.1" cy="363" r="2.0"/><circle cx="210.5" cy="364" r="2.0"/><circle cx="211.7" cy="362.3" r="2.0"/><circle cx="211.8" cy="363.5" r="2.0"/><circle cx="213" cy="363.1" r="2.0"/><circle cx="213.3" cy="363.1" r="2.0"/><circle cx="214.6" cy="362.9" r="2.0"/><circle cx="214.5" cy="364.3" r="2.0"/><circle cx="215.9" cy="362.5" r="2.0"/><circle cx="215.3" cy="363.5" r="2.0"/><circle cx="217.1" cy="362" r="2.0"/><circle cx="216.8" cy="363.9" r="2.0"/><circle cx="218.7" cy="370.4" r="2.0"/><circle cx="218.6" cy="371.9" r="2.0"/><circle cx="220.3" cy="370.5" r="2.0"/><circle cx="220.5" cy="371.6" r="2.0"/><circle cx="221.5" cy="370.5" r="2.0"/><circle cx="222.8" cy="361.7" r="2.0"/><circle cx="223" cy="362.7" r="2.0"/><circle cx="224.2" cy="361.7" r="2.0"/><circle cx="225.3" cy="361" r="2.0"/><circle cx="225.2" cy="362.1" r="2.0"/><circle cx="226.8" cy="360.9" r="2.0"/><circle cx="226.9" cy="362.1" r="2.0"/><circle cx="228.3" cy="361.3" r="2.0"/><circle cx="228" cy="362.1" r="2.0"/><circle cx="229.4" cy="365.3" r="2.0"/><circle cx="230.9" cy="365.7" r="2.0"/><circle cx="232.7" cy="360.8" r="2.0"/><circle cx="232.5" cy="362.2" r="2.0"/><circle cx="234" cy="360.6" r="2.0"/><circle cx="235.5" cy="361.5" r="2.0"/><circle cx="236.9" cy="361" r="2.0"/><circle cx="236.4" cy="362" r="2.0"/><circle cx="238.4" cy="361.9" r="2.0"/><circle cx="237.8" cy="362.8" r="2.0"/><circle cx="239.9" cy="362" r="2.0"/><circle cx="239.9" cy="363" r="2.0"/><circle cx="241.2" cy="361.9" r="2.0"/><circle cx="241.4" cy="363.2" r="2.0"/><circle cx="242.3" cy="363.3" r="2.0"/><circle cx="242.8" cy="364.1" r="2.0"/><circle cx="243.4" cy="364.3" r="2.0"/><circle cx="244.2" cy="365.7" r="2.0"/><circle cx="245.5" cy="365.5" r="2.0"/><circle cx="245.2" cy="365.6" r="2.0"/><circle cx="246.4" cy="365.4" r="2.0"/><circle cx="246.8" cy="366.1" r="2.0"/><circle cx="248" cy="366.5" r="2.0"/><circle cx="247.4" cy="367" r="2.0"/><circle cx="249.2" cy="366.7" r="2.0"/><circle cx="249.8" cy="368" r="2.0"/><circle cx="251" cy="371.6" r="2.0"/><circle cx="251" cy="373" r="2.0"/><circle cx="252.1" cy="371.5" r="2.0"/><circle cx="252.4" cy="373.4" r="2.0"/><circle cx="253.9" cy="366.1" r="2.0"/><circle cx="253.5" cy="368" r="2.0"/><circle cx="254.9" cy="366.2" r="2.0"/><circle cx="254.8" cy="367.9" r="2.0"/><circle cx="256.8" cy="367.3" r="2.0"/><circle cx="258.2" cy="356.9" r="2.0"/><circle cx="258.2" cy="357" r="2.0"/><circle cx="259.3" cy="356.4" r="2.0"/><circle cx="259.3" cy="358" r="2.0"/><circle cx="260.6" cy="356.5" r="2.0"/><circle cx="260.4" cy="358" r="2.0"/><circle cx="261.6" cy="360.9" r="2.0"/><circle cx="261.9" cy="362.1" r="2.0"/><circle cx="263.5" cy="361.2" r="2.0"/><circle cx="263.3" cy="362.6" r="2.0"/><circle cx="142.5" cy="350" r="2.0"/><circle cx="142.5" cy="352.5" r="2.0"/><circle cx="145" cy="350" r="2.0"/><circle cx="145" cy="352.5" r="2.0"/><circle cx="147.5" cy="350" r="2.0"/><circle cx="147.5" cy="352.5" r="2.0"/><circle cx="150" cy="350" r="2.0"/><circle cx="150" cy="352.5" r="2.0"/><circle cx="152" cy="350" r="2.0"/><circle cx="152" cy="352.5" r="2.0"/><circle cx="130.8" cy="353" r="2.0"/><circle cx="131.2" cy="355.5" r="2.0"/><circle cx="131" cy="360.5" r="2.0"/><circle cx="131.5" cy="363" r="2.0"/><circle cx="165.7" cy="353" r="2.0"/><circle cx="164.5" cy="353.1" r="2.0"/><circle cx="191.1" cy="347" r="2.0"/><circle cx="191.1" cy="349.5" r="2.0"/><circle cx="191.3" cy="352" r="2.0"/><circle cx="104.5" cy="351.5" r="2.0"/><circle cx="193" cy="349.5" r="2.0"/></g>
<rect x="154" y="364.8" width="7" height="1.4" fill="#fff"/>
<rect x="146.2" y="375.5" width="4.3" height="1.2" fill="#fff"/>
<rect x="166" y="366" width="2.5" height="1.5" fill="#fff"/>
<rect x="61" y="371.5" width="1" height="1" fill="#fff"/>
<rect x="103" y="373.5" width="2" height="1" fill="#fff"/>
<rect x="84" y="366" width="1" height="1.5" fill="#fff"/>
<rect x="202" y="366" width="3" height="1" fill="#fff"/>
<rect x="189.2" y="374" width="2.3" height="2" fill="#fff"/>
<line x1="102.4" y1="282.2" x2="102.4" y2="388.8" stroke="#c9333a" stroke-width="1" stroke-dasharray="11,12.3"/>
<line x1="217.1" y1="282.2" x2="217.1" y2="388.8" stroke="#c9333a" stroke-width="1" stroke-dasharray="11,12.3"/>
<g fill="#7cc3ea"><circle cx="70.5" cy="360.5" r="2.2"/><circle cx="72.8" cy="360.5" r="2.2"/><circle cx="75.1" cy="360.5" r="2.2"/><circle cx="77.4" cy="360.5" r="2.2"/><circle cx="79.7" cy="360.5" r="2.2"/><circle cx="82" cy="360.5" r="2.2"/><circle cx="71" cy="361" r="2.2"/><circle cx="71" cy="364.5" r="2.2"/><circle cx="81.4" cy="361" r="2.2"/><circle cx="81.4" cy="364.5" r="2.2"/><circle cx="104.3" cy="344.5" r="2.2"/><circle cx="105.5" cy="345" r="2.2"/><circle cx="104.5" cy="347.5" r="2.2"/><circle cx="103.2" cy="349.5" r="2.2"/><circle cx="104" cy="352.5" r="2.2"/><circle cx="104" cy="356" r="2.2"/><circle cx="104.8" cy="358.4" r="2.2"/><circle cx="105.6" cy="360.8" r="2.2"/><circle cx="106.4" cy="363.2" r="2.2"/><circle cx="107.2" cy="365.6" r="2.2"/><circle cx="108" cy="368" r="2.2"/><circle cx="106" cy="362" r="2.2"/><circle cx="107.2" cy="365.5" r="2.2"/><circle cx="108.5" cy="369" r="2.2"/><circle cx="130.8" cy="349.5" r="2.2"/><circle cx="131.5" cy="349.8" r="2.2"/><circle cx="131.2" cy="368" r="2.2"/><circle cx="131.8" cy="369.5" r="2.2"/><circle cx="139" cy="375" r="2.2"/><circle cx="141" cy="374.3" r="2.2"/><circle cx="143" cy="373.7" r="2.2"/><circle cx="145" cy="373" r="2.2"/><circle cx="141" cy="376.5" r="2.2"/><circle cx="178.8" cy="357" r="2.2"/><circle cx="179.2" cy="360" r="2.2"/><circle cx="179.5" cy="363" r="2.2"/><circle cx="204.3" cy="347.3" r="2.2"/><circle cx="206.3" cy="346.5" r="2.2"/><circle cx="208" cy="348.2" r="2.2"/><circle cx="206" cy="352.5" r="2.2"/><circle cx="208.5" cy="353.5" r="2.2"/><circle cx="210.8" cy="354.5" r="2.2"/><circle cx="213" cy="355.5" r="2.2"/><circle cx="208" cy="356.5" r="2.2"/><circle cx="210.5" cy="358.5" r="2.2"/><circle cx="212.8" cy="359" r="2.2"/><circle cx="211" cy="361.5" r="2.2"/><circle cx="213.2" cy="362.8" r="2.2"/><circle cx="209" cy="373.5" r="2.2"/><circle cx="210.5" cy="371.5" r="2.2"/><circle cx="212.3" cy="369.8" r="2.2"/><circle cx="215" cy="357.5" r="2.2"/><circle cx="218" cy="336" r="2.2"/><circle cx="218.1" cy="336.2" r="2.2"/><circle cx="221.7" cy="346.6" r="2.2"/><circle cx="222.2" cy="346.4" r="2.2"/><circle cx="254.4" cy="342.5" r="2.2"/><circle cx="242.5" cy="349.7" r="2.2"/><circle cx="248.2" cy="364.3" r="2.2"/><circle cx="229" cy="345.8" r="2.2"/><circle cx="231.2" cy="346.5" r="2.2"/><circle cx="233.4" cy="348" r="2.2"/><circle cx="240.3" cy="343.6" r="2.2"/><circle cx="242.5" cy="344" r="2.2"/><circle cx="244.8" cy="344.5" r="2.2"/><circle cx="247" cy="345.3" r="2.2"/><circle cx="243.5" cy="346" r="2.2"/><circle cx="231" cy="355.4" r="2.2"/><circle cx="233.2" cy="354" r="2.2"/><circle cx="235.5" cy="352.8" r="2.2"/><circle cx="232.5" cy="356" r="2.2"/><circle cx="246.5" cy="352" r="2.2"/><circle cx="248.5" cy="353.5" r="2.2"/><circle cx="250.8" cy="355.5" r="2.2"/><circle cx="249" cy="356" r="2.2"/><circle cx="240.3" cy="357.2" r="2.2"/><circle cx="242.5" cy="358" r="2.2"/><circle cx="244.8" cy="358.5" r="2.2"/><circle cx="247.5" cy="360" r="2.2"/><circle cx="241.5" cy="359.5" r="2.2"/><circle cx="260.4" cy="350" r="2.2"/><circle cx="261.5" cy="352.5" r="2.2"/><circle cx="262.5" cy="355.5" r="2.2"/></g>
<g fill="#62b53e"><circle cx="103.5" cy="329.2" r="2.2"/><circle cx="205.9" cy="342" r="2.2"/><circle cx="217.4" cy="318.8" r="2.2"/><circle cx="263" cy="330.5" r="2.2"/><circle cx="193.1" cy="340.6" r="2.2"/><circle cx="193.1" cy="343.3" r="2.2"/><circle cx="193.1" cy="346" r="2.2"/><circle cx="223.8" cy="319" r="2.2"/><circle cx="225.7" cy="319.8" r="2.2"/><circle cx="221" cy="323.5" r="2.2"/><circle cx="223.5" cy="324" r="2.2"/><circle cx="226" cy="324.2" r="2.2"/><circle cx="228.5" cy="325" r="2.2"/><circle cx="230.8" cy="326.5" r="2.2"/><circle cx="228" cy="327.2" r="2.2"/><circle cx="225" cy="326.5" r="2.2"/><circle cx="235" cy="334.6" r="2.2"/><circle cx="237.3" cy="334.6" r="2.2"/><circle cx="239.7" cy="334.6" r="2.2"/><circle cx="242" cy="334.6" r="2.2"/><circle cx="244.3" cy="334.6" r="2.2"/><circle cx="246.7" cy="334.6" r="2.2"/><circle cx="249" cy="334.6" r="2.2"/><circle cx="251.3" cy="334.6" r="2.2"/><circle cx="253.7" cy="334.6" r="2.2"/><circle cx="256" cy="334.6" r="2.2"/><circle cx="258.3" cy="334.6" r="2.2"/><circle cx="260.7" cy="334.6" r="2.2"/><circle cx="263" cy="334.6" r="2.2"/><circle cx="247" cy="338.1" r="2.2"/><circle cx="249.3" cy="338.1" r="2.2"/><circle cx="251.6" cy="338.1" r="2.2"/><circle cx="253.9" cy="338.1" r="2.2"/><circle cx="256.1" cy="338.1" r="2.2"/><circle cx="258.4" cy="338.1" r="2.2"/><circle cx="260.7" cy="338.1" r="2.2"/><circle cx="263" cy="338.1" r="2.2"/><circle cx="232.6" cy="338" r="2.2"/><circle cx="235.2" cy="338.6" r="2.2"/><circle cx="234" cy="336.5" r="2.2"/><circle cx="260.7" cy="330.2" r="2.2"/><circle cx="255" cy="336.5" r="2.2"/><circle cx="250" cy="336.5" r="2.2"/></g>
<g fill="#f5a02e"><circle cx="102.3" cy="323.7" r="2.2"/><circle cx="104.9" cy="321.1" r="2.2"/><circle cx="108" cy="326.3" r="2.2"/><circle cx="107.2" cy="343.5" r="2.2"/><circle cx="130.8" cy="326.9" r="2.2"/><circle cx="130.8" cy="330" r="2.2"/><circle cx="132.4" cy="327.4" r="2.2"/><circle cx="130.3" cy="338.3" r="2.2"/><circle cx="148.2" cy="316.5" r="2.2"/><circle cx="151.6" cy="324.8" r="2.2"/><circle cx="177.4" cy="300.6" r="2.2"/><circle cx="208.9" cy="316.3" r="2.2"/><circle cx="208.3" cy="311.7" r="2.2"/><circle cx="208.9" cy="323.6" r="2.2"/><circle cx="208.9" cy="325.5" r="2.2"/><circle cx="208.9" cy="327.2" r="2.2"/><circle cx="140.2" cy="327.4" r="2.2"/><circle cx="142.3" cy="327.4" r="2.2"/><circle cx="144.5" cy="327.4" r="2.2"/><circle cx="146.6" cy="327.4" r="2.2"/><circle cx="148.8" cy="327.4" r="2.2"/><circle cx="150.9" cy="327.4" r="2.2"/><circle cx="153.1" cy="327.4" r="2.2"/><circle cx="177.4" cy="313.9" r="2.2"/><circle cx="177.4" cy="316.1" r="2.2"/><circle cx="177.4" cy="318.4" r="2.2"/><circle cx="177.4" cy="320.6" r="2.2"/></g>
<g fill="#e8312a"><circle cx="107.2" cy="308.5" r="2.2"/><circle cx="106.4" cy="322.7" r="2.2"/><circle cx="107.5" cy="324.8" r="2.2"/><circle cx="105.5" cy="323.5" r="2.2"/><circle cx="108" cy="332.4" r="2.2"/><circle cx="187.1" cy="293.6" r="2.2"/><circle cx="192.3" cy="295.5" r="2.2"/><circle cx="188.9" cy="303.6" r="2.2"/><circle cx="193.1" cy="312.1" r="2.2"/><circle cx="193.1" cy="314.3" r="2.2"/><circle cx="193.1" cy="316.3" r="2.2"/><circle cx="208.3" cy="301.8" r="2.2"/><circle cx="216.2" cy="287.3" r="2.2"/><circle cx="164.1" cy="323" r="2.2"/><circle cx="166.2" cy="323" r="2.2"/><circle cx="168.3" cy="323" r="2.2"/><circle cx="170.5" cy="323" r="2.2"/><circle cx="172.6" cy="323" r="2.2"/><circle cx="171" cy="307.2" r="2.2"/><circle cx="173.8" cy="306.9" r="2.2"/><circle cx="170.2" cy="309.8" r="2.2"/><circle cx="172.8" cy="310.2" r="2.2"/><circle cx="175.5" cy="309.5" r="2.2"/><circle cx="170.4" cy="312.6" r="2.2"/><circle cx="173.2" cy="313" r="2.2"/><circle cx="171.2" cy="315.4" r="2.2"/><circle cx="174.2" cy="315.8" r="2.2"/><circle cx="176.2" cy="313.2" r="2.2"/><circle cx="204.7" cy="309.7" r="2.2"/><circle cx="206.9" cy="309.7" r="2.2"/><circle cx="209.1" cy="309.7" r="2.2"/><circle cx="211.3" cy="309.7" r="2.2"/><circle cx="213.6" cy="309.7" r="2.2"/><circle cx="215.8" cy="309.7" r="2.2"/><circle cx="218" cy="309.7" r="2.2"/><circle cx="212" cy="307.5" r="2.2"/><circle cx="214.5" cy="306" r="2.2"/><circle cx="217" cy="304.6" r="2.2"/><circle cx="218.3" cy="307" r="2.2"/><circle cx="216" cy="308" r="2.2"/><circle cx="217.5" cy="312.3" r="2.2"/><circle cx="214" cy="311.5" r="2.2"/><circle cx="218.5" cy="310" r="2.2"/></g>
<line x1="46.1" y1="283" x2="46.1" y2="389" stroke="#3a3a3a" stroke-width="1.15" />
<line x1="46.1" y1="389" x2="272.9" y2="389" stroke="#3a3a3a" stroke-width="1.15" />
<line x1="43.9" y1="383.4" x2="46.1" y2="383.4" stroke="#444" stroke-width="1" />
<text x="42.6" y="386.8" font-size="9.5" text-anchor="end" fill="#222" >0</text>
<line x1="43.9" y1="359.9" x2="46.1" y2="359.9" stroke="#444" stroke-width="1" />
<text x="42.6" y="363.3" font-size="9.5" text-anchor="end" fill="#222" >2</text>
<line x1="43.9" y1="336.4" x2="46.1" y2="336.4" stroke="#444" stroke-width="1" />
<text x="42.6" y="339.8" font-size="9.5" text-anchor="end" fill="#222" >4</text>
<line x1="43.9" y1="313" x2="46.1" y2="313" stroke="#444" stroke-width="1" />
<text x="42.6" y="316.4" font-size="9.5" text-anchor="end" fill="#222" >6</text>
<line x1="43.9" y1="289.5" x2="46.1" y2="289.5" stroke="#444" stroke-width="1" />
<text x="42.6" y="292.9" font-size="9.5" text-anchor="end" fill="#222" >8</text>
<line x1="65.9" y1="389" x2="65.9" y2="391.2" stroke="#444" stroke-width="1" />
<text x="70" y="402.9" font-size="10" text-anchor="middle" fill="#222" >74.5</text>
<line x1="111.5" y1="389" x2="111.5" y2="391.2" stroke="#444" stroke-width="1" />
<text x="115.5" y="402.9" font-size="10" text-anchor="middle" fill="#222" >75.0</text>
<line x1="157" y1="389" x2="157" y2="391.2" stroke="#444" stroke-width="1" />
<text x="161.1" y="402.9" font-size="10" text-anchor="middle" fill="#222" >75.5</text>
<line x1="202.5" y1="389" x2="202.5" y2="391.2" stroke="#444" stroke-width="1" />
<text x="206.6" y="402.9" font-size="10" text-anchor="middle" fill="#222" >76.0</text>
<line x1="248.1" y1="389" x2="248.1" y2="391.2" stroke="#444" stroke-width="1" />
<text x="252.2" y="402.9" font-size="10" text-anchor="middle" fill="#222" >76.5</text>
<text x="146.8" y="278.1" font-size="10" text-anchor="start" fill="#222" >rs14491022</text>
<line x1="170" y1="285.3" x2="190.3" y2="305.8" stroke="#111" stroke-width="0.8" />
<path d="M169.3,284.4 L173,286 L171,288Z" fill="#111"/>
<path d="M192.5,305 L195.6,308.1 L192.5,311.2 L189.4,308.1Z" fill="#e8312a" stroke="#111" stroke-width="1.2"/>
<text transform="translate(19.7,330.2) rotate(-90)" font-size="12.5" text-anchor="middle" fill="#222">-log<tspan font-size="7" dy="3.4">10</tspan><tspan dy="-3.4"> (</tspan><tspan font-style="italic">P</tspan><tspan font-size="7" dy="3.8" letter-spacing="0.3">GWAS</tspan><tspan dy="-3.8">)</tspan></text>
<line x1="38.8" y1="417.4" x2="194" y2="389.6" stroke="#333" stroke-width="0.85" stroke-dasharray="11.9,12.5"/>
<line x1="274.6" y1="403.4" x2="194" y2="389.3" stroke="#333" stroke-width="0.85" stroke-dasharray="12.2,11.7"/>
<rect x="17.4" y="429.2" width="6.6" height="6.3" fill="#e8262a" />
<text x="26.8" y="435.1" font-size="7.25" text-anchor="start" fill="#222" >1 TssA</text>
<rect x="17.4" y="437.5" width="6.6" height="6.3" fill="#e63a93" />
<text x="26.8" y="443.4" font-size="7.25" text-anchor="start" fill="#222" >2 TssAHet</text>
<rect x="17.4" y="445.2" width="6.6" height="6.3" fill="#2f7c3c" />
<text x="26.8" y="451.1" font-size="7.25" text-anchor="start" fill="#222" >3 TxFlnk</text>
<rect x="17.4" y="453.5" width="6.6" height="6.3" fill="#3aab47" />
<text x="26.8" y="459.4" font-size="7.25" text-anchor="start" fill="#222" >4 TxFlnkWk</text>
<rect x="17.4" y="461.9" width="6.6" height="6.3" fill="#5fbb49" />
<text x="26.8" y="467.8" font-size="7.25" text-anchor="start" fill="#222" >5 TxFlnkHet</text>
<rect x="17.4" y="470.2" width="6.6" height="6.3" fill="#e8e24a" />
<text x="26.8" y="476.1" font-size="7.25" text-anchor="start" fill="#222" >6 EnhA</text>
<rect x="17.4" y="478" width="6.6" height="6.3" fill="#b8862e" />
<text x="26.8" y="483.9" font-size="7.25" text-anchor="start" fill="#222" >7 EnhAMe</text>
<rect x="17.4" y="485.3" width="6.6" height="6.3" fill="#dcb23a" />
<text x="26.8" y="491.2" font-size="7.25" text-anchor="start" fill="#222" >8 EnhAWk</text>
<rect x="17.4" y="492.6" width="6.6" height="6.3" fill="#f0c030" />
<text x="26.8" y="498.5" font-size="7.25" text-anchor="start" fill="#222" >9 EnhAHet</text>
<rect x="17.4" y="500.4" width="6.6" height="6.3" fill="#f5dc95" />
<text x="26.8" y="506.3" font-size="7.25" text-anchor="start" fill="#222" >10 EnhPois</text>
<rect x="17.4" y="508.2" width="6.6" height="6.3" fill="#74c3e2" />
<text x="26.8" y="514.1" font-size="7.25" text-anchor="start" fill="#222" >11 ATAC_Is</text>
<rect x="17.4" y="516" width="6.6" height="6.3" fill="#f07b3a" />
<text x="26.8" y="521.9" font-size="7.25" text-anchor="start" fill="#222" >12 TssBiv</text>
<rect x="17.4" y="523.7" width="6.6" height="6.3" fill="#5a5a5e" />
<text x="26.8" y="529.6" font-size="7.25" text-anchor="start" fill="#222" >13 Repr</text>
<rect x="17.4" y="531" width="6.6" height="6.3" fill="#98989c" />
<text x="26.8" y="536.9" font-size="7.25" text-anchor="start" fill="#222" >14 ReprWk</text>
<rect x="17.4" y="538.8" width="6.6" height="6.3" fill="#e9dfe0" />
<text x="26.8" y="544.7" font-size="7.25" text-anchor="start" fill="#222" >15 Qui</text>
<text x="236.5" y="420" font-size="6.9" text-anchor="start" fill="#222" >Hypothalamus</text>
<text x="236.5" y="426.1" font-size="6.9" text-anchor="start" fill="#222" >ShellGland</text>
<text x="236.5" y="432.1" font-size="6.9" text-anchor="start" fill="#222" >Muscle</text>
<text x="236.5" y="438.2" font-size="6.9" text-anchor="start" fill="#222" >Heart</text>
<text x="236.5" y="444.3" font-size="6.9" text-anchor="start" fill="#222" >Adipose</text>
<text x="236.5" y="450.4" font-size="6.9" text-anchor="start" fill="#222" >Kidney</text>
<text x="236.5" y="456.4" font-size="6.9" text-anchor="start" fill="#222" >Spleen</text>
<text x="236.5" y="462.5" font-size="6.9" text-anchor="start" fill="#222" >BMarrow</text>
<text x="236.5" y="468.6" font-size="6.9" text-anchor="start" fill="#222" >Lung</text>
<text x="236.5" y="474.6" font-size="6.9" text-anchor="start" fill="#222" >Trachea</text>
<text x="236.5" y="480.7" font-size="6.9" text-anchor="start" fill="#222" >Thymus</text>
<text x="236.5" y="486.8" font-size="6.9" text-anchor="start" fill="#222" >Bursa</text>
<text x="236.5" y="492.8" font-size="6.9" text-anchor="start" fill="#222" >Liver</text>
<text x="236.5" y="498.9" font-size="6.9" text-anchor="start" fill="#222" >Provent</text>
<text x="236.5" y="505" font-size="6.9" text-anchor="start" fill="#222" >Gizzard</text>
<text x="236.5" y="511.1" font-size="6.9" text-anchor="start" fill="#222" >Jejunum</text>
<text x="236.5" y="517.1" font-size="6.9" text-anchor="start" fill="#222" >Duodenum</text>
<text x="236.5" y="523.2" font-size="6.9" text-anchor="start" fill="#222" >Ileum</text>
<text x="236.5" y="529.3" font-size="6.9" text-anchor="start" fill="#222" >Colon</text>
<text x="236.5" y="535.3" font-size="6.9" text-anchor="start" fill="#222" >Cecum</text>
<rect x="55.8" y="421.2" width="37.7" height="5.8" fill="#7a9dc0" />
<rect x="126.2" y="421.2" width="7.8" height="5.8" fill="#7a9dc0" />
<rect x="158" y="421.2" width="8" height="5.8" fill="#7a9dc0" />
<rect x="166" y="421.2" width="8" height="5.8" fill="#b9862f" />
<rect x="86" y="481.8" width="7.7" height="5.8" fill="#7a9dc0" />
<rect x="130" y="481.8" width="4" height="5.8" fill="#7a9dc0" />
<rect x="170.3" y="481.8" width="3.5" height="5.8" fill="#7a9dc0" />
<rect x="222.2" y="481.8" width="7.9" height="5.8" fill="#7a9dc0" />
<rect x="106" y="493.8" width="20" height="5.8" fill="#7a9dc0" />
<rect x="126" y="493.8" width="8" height="5.8" fill="#b9862f" />
<rect x="134" y="493.8" width="7.8" height="5.8" fill="#7a9dc0" />
<rect x="166" y="493.8" width="8" height="5.8" fill="#b9862f" />
<rect x="218" y="493.8" width="12.1" height="5.8" fill="#7a9dc0" />
<rect x="222.6" y="499.9" width="3.4" height="5.8" fill="#7a9dc0" />
<rect x="89.9" y="505.9" width="3.8" height="5.8" fill="#7a9dc0" />
<rect x="218" y="505.9" width="12.1" height="5.8" fill="#7a9dc0" />
<rect x="222.6" y="512" width="3.4" height="5.8" fill="#7a9dc0" />
<rect x="89.9" y="518.1" width="3.8" height="5.8" fill="#7a9dc0" />
<rect x="210.1" y="518.1" width="3.9" height="5.8" fill="#7a9dc0" />
<rect x="89.9" y="524.1" width="3.8" height="5.8" fill="#7a9dc0" />
<rect x="106" y="524.1" width="3.7" height="5.8" fill="#7a9dc0" />
<rect x="222.6" y="524.1" width="7.5" height="5.8" fill="#7a9dc0" />
<rect x="89.9" y="530.2" width="3.8" height="5.8" fill="#7a9dc0" />
<rect x="222.6" y="530.2" width="3.4" height="5.8" fill="#7a9dc0" />
<rect x="125.9" y="505.9" width="4" height="5.7" fill="#ebe34a" />
<rect x="129.9" y="505.9" width="4" height="5.7" fill="#ebe34a" />
<rect x="133.9" y="505.9" width="4" height="5.7" fill="#ebe34a" />
<rect x="137.9" y="505.9" width="4" height="5.7" fill="#b9862f" />
<rect x="141.9" y="505.9" width="4" height="5.7" fill="#b9862f" />
<rect x="145.9" y="505.9" width="4" height="5.7" fill="#f2c132" />
<rect x="149.9" y="505.9" width="4" height="5.7" fill="#ebe34a" />
<rect x="153.9" y="505.9" width="4" height="5.7" fill="#ebe34a" />
<rect x="157.9" y="505.9" width="4" height="5.7" fill="#e0b53a" />
<rect x="161.9" y="505.9" width="4" height="5.7" fill="#f2c132" />
<rect x="165.9" y="505.9" width="4" height="5.7" fill="#ebe34a" />
<rect x="169.9" y="505.9" width="4" height="5.7" fill="#ebe34a" />
<rect x="173.9" y="505.9" width="4" height="5.7" fill="#f2c132" />
<rect x="125.9" y="512" width="4" height="5.7" fill="#f2c132" />
<rect x="129.9" y="512" width="4" height="5.7" fill="#ebe34a" />
<rect x="133.9" y="512" width="4" height="5.7" fill="#f2c132" />
<rect x="137.9" y="512" width="4" height="5.7" fill="#b9862f" />
<rect x="141.9" y="512" width="4" height="5.7" fill="#b9862f" />
<rect x="145.9" y="512" width="4" height="5.7" fill="#f2c132" />
<rect x="149.9" y="512" width="4" height="5.7" fill="#f2c132" />
<rect x="153.9" y="512" width="4" height="5.7" fill="#ebe34a" />
<rect x="157.9" y="512" width="4" height="5.7" fill="#f2c132" />
<rect x="161.9" y="512" width="4" height="5.7" fill="#f2c132" />
<rect x="165.9" y="512" width="4" height="5.7" fill="#ebe34a" />
<rect x="169.9" y="512" width="4" height="5.7" fill="#ebe34a" />
<rect x="125.9" y="518.1" width="4" height="5.7" fill="#f2c132" />
<rect x="129.9" y="518.1" width="4" height="5.7" fill="#ebe34a" />
<rect x="133.9" y="518.1" width="4" height="5.7" fill="#ebe34a" />
<rect x="137.9" y="518.1" width="4" height="5.7" fill="#b9862f" />
<rect x="141.9" y="518.1" width="4" height="5.7" fill="#b9862f" />
<rect x="145.9" y="518.1" width="4" height="5.7" fill="#e0b53a" />
<rect x="149.9" y="518.1" width="4" height="5.7" fill="#e0b53a" />
<rect x="153.9" y="518.1" width="4" height="5.7" fill="#b9862f" />
<rect x="157.9" y="518.1" width="4" height="5.7" fill="#e0b53a" />
<rect x="161.9" y="518.1" width="4" height="5.7" fill="#e0b53a" />
<rect x="165.9" y="518.1" width="4" height="5.7" fill="#7a9dc0" />
<rect x="169.9" y="518.1" width="4" height="5.7" fill="#7a9dc0" />
<rect x="125.9" y="524.1" width="4" height="5.7" fill="#e0b53a" />
<rect x="129.9" y="524.1" width="4" height="5.7" fill="#ebe34a" />
<rect x="133.9" y="524.1" width="4" height="5.7" fill="#ebe34a" />
<rect x="137.9" y="524.1" width="4" height="5.7" fill="#b9862f" />
<rect x="141.9" y="524.1" width="4" height="5.7" fill="#b9862f" />
<rect x="145.9" y="524.1" width="4" height="5.7" fill="#e0b53a" />
<rect x="149.9" y="524.1" width="4" height="5.7" fill="#e0b53a" />
<rect x="153.9" y="524.1" width="4" height="5.7" fill="#e0b53a" />
<rect x="157.9" y="524.1" width="4" height="5.7" fill="#e0b53a" />
<rect x="161.9" y="524.1" width="4" height="5.7" fill="#e0b53a" />
<rect x="165.9" y="524.1" width="4" height="5.7" fill="#7a9dc0" />
<rect x="169.9" y="524.1" width="4" height="5.7" fill="#7a9dc0" />
<rect x="125.9" y="530.2" width="4" height="5.7" fill="#ebe34a" />
<rect x="129.9" y="530.2" width="4" height="5.7" fill="#ebe34a" />
<rect x="133.9" y="530.2" width="4" height="5.7" fill="#ebe34a" />
<rect x="137.9" y="530.2" width="4" height="5.7" fill="#b9862f" />
<rect x="141.9" y="530.2" width="4" height="5.7" fill="#b9862f" />
<rect x="145.9" y="530.2" width="4" height="5.7" fill="#b9862f" />
<rect x="149.9" y="530.2" width="4" height="5.7" fill="#b9862f" />
<rect x="153.9" y="530.2" width="4" height="5.7" fill="#b9862f" />
<rect x="157.9" y="530.2" width="4" height="5.7" fill="#e0b53a" />
<rect x="161.9" y="530.2" width="4" height="5.7" fill="#e0b53a" />
<rect x="165.9" y="530.2" width="4" height="5.7" fill="#b9862f" />
<rect x="169.9" y="530.2" width="4" height="5.7" fill="#b9862f" />
<line x1="156.1" y1="408.1" x2="156.1" y2="541.5" stroke="#f08a7a" stroke-width="1.1" />
<line x1="233.9" y1="413.4" x2="233.9" y2="539" stroke="#f6b8b8" stroke-width="0.9" />
<line x1="66" y1="541.5" x2="235.5" y2="541.5" stroke="#3a3a3a" stroke-width="1.15" />
<line x1="106.4" y1="541.5" x2="106.4" y2="544.5" stroke="#444" stroke-width="1" />
<text x="107.4" y="556.3" font-size="10.3" text-anchor="middle" fill="#222" >75.89</text>
<line x1="206.3" y1="541.5" x2="206.3" y2="544.5" stroke="#444" stroke-width="1" />
<text x="209.1" y="556.3" font-size="10.3" text-anchor="middle" fill="#222" >75.895</text>
<text x="72.5" y="576" font-size="10" text-anchor="start" fill="#222" >Chromosome 4 position (Mb)</text>
<text x="176.2" y="416.2" font-size="10.4" text-anchor="start" fill="#e8303a" >rs14491022</text>
<line x1="156.2" y1="416.2" x2="171.5" y2="412.2" stroke="#111" stroke-width="0.8" />
<path d="M173.6,411.7 L169.8,411.3 L170.6,414.2Z" fill="#111"/>
<rect x="343.4" y="14.2" width="121" height="234.8" fill="none" stroke="#444" stroke-width="1.15"/>
<text x="339.3" y="70.3" font-size="9.9" text-anchor="end" fill="#333" >0.09</text>
<text x="339.3" y="136.7" font-size="9.9" text-anchor="end" fill="#333" >0.06</text>
<text x="339.3" y="203.1" font-size="9.9" text-anchor="end" fill="#333" >0.03</text>
<text transform="translate(305.9,113.8) rotate(-90)" font-size="10" text-anchor="middle" fill="#222" >Minor allele frequency</text>
<text x="367.8" y="261.8" font-size="10.1" text-anchor="middle" fill="#222" >F2</text>
<text x="405.4" y="261.8" font-size="10.1" text-anchor="middle" fill="#222" >F9</text>
<text x="443.9" y="261.8" font-size="10.1" text-anchor="middle" fill="#222" >F16</text>
<line x1="366.4" y1="109.3" x2="366.4" y2="156" stroke="#222" stroke-width="0.9" />
<line x1="366.4" y1="200.5" x2="366.4" y2="227.8" stroke="#222" stroke-width="0.9" />
<line x1="360.6" y1="109.3" x2="372.2" y2="109.3" stroke="#222" stroke-width="0.9" />
<line x1="360.6" y1="227.8" x2="372.2" y2="227.8" stroke="#222" stroke-width="0.9" />
<rect x="351.9" y="156" width="28.9" height="44.5" fill="#c3c5af" stroke="#333" stroke-width="0.9"/>
<line x1="366.4" y1="156" x2="366.4" y2="200.5" stroke="#222" stroke-width="0.9" />
<line x1="351.9" y1="197.3" x2="380.8" y2="197.3" stroke="#222" stroke-width="0.9" />
<line x1="403.7" y1="184" x2="403.7" y2="190.2" stroke="#222" stroke-width="0.9" />
<line x1="403.7" y1="215.4" x2="403.7" y2="237.2" stroke="#222" stroke-width="0.9" />
<line x1="397.9" y1="184" x2="409.5" y2="184" stroke="#222" stroke-width="0.9" />
<line x1="397.9" y1="237.2" x2="409.5" y2="237.2" stroke="#222" stroke-width="0.9" />
<rect x="389.3" y="190.2" width="28.7" height="25.2" fill="#668a88" stroke="#333" stroke-width="0.9"/>
<line x1="403.7" y1="190.2" x2="403.7" y2="215.4" stroke="#222" stroke-width="0.9" />
<line x1="389.3" y1="211.3" x2="418.1" y2="211.3" stroke="#222" stroke-width="0.9" />
<line x1="441.7" y1="69.5" x2="441.7" y2="109.5" stroke="#222" stroke-width="0.9" />
<line x1="441.7" y1="137.6" x2="441.7" y2="178.4" stroke="#222" stroke-width="0.9" />
<line x1="435.9" y1="69.5" x2="447.5" y2="69.5" stroke="#222" stroke-width="0.9" />
<line x1="435.9" y1="178.4" x2="447.5" y2="178.4" stroke="#222" stroke-width="0.9" />
<rect x="427.4" y="109.5" width="28.6" height="28.1" fill="#78a8c8" stroke="#333" stroke-width="0.9"/>
<line x1="441.7" y1="109.5" x2="441.7" y2="137.6" stroke="#222" stroke-width="0.9" />
<line x1="427.4" y1="129.2" x2="456" y2="129.2" stroke="#222" stroke-width="0.9" />
<path d="M403.6,32.1 L403.6,27.4 L441.9,27.4 L441.9,32.1" fill="none" stroke="#333" stroke-width="0.9"/>
<path d="M366.2,48.7 L366.2,43.9 L441.9,43.9 L441.9,48.7" fill="none" stroke="#333" stroke-width="0.9"/>
<path d="M366.2,65.7 L366.2,60.6 L404.1,60.6 L404.1,65.7" fill="none" stroke="#333" stroke-width="0.9"/>
<text x="392.6" y="26.3" font-size="8.4" fill="#222" text-anchor="start">p &lt; 2.2 × 10<tspan font-size="5.2" dy="-3.2">-308</tspan></text>
<text x="372.3" y="42" font-size="8.4" fill="#222" text-anchor="start">1.76×10<tspan font-size="5.2" dy="-3.2">-183</tspan></text>
<text x="362.8" y="58.1" font-size="8.4" fill="#222" text-anchor="start">8.57×10<tspan font-size="5.2" dy="-3.2">-54</tspan></text>
<rect x="541" y="14.3" width="143.4" height="234.9" fill="none" stroke="#444" stroke-width="1.15"/>
<text x="536.8" y="39.9" font-size="9.8" text-anchor="end" fill="#333" >2000</text>
<text x="536.8" y="111.5" font-size="9.8" text-anchor="end" fill="#333" >1500</text>
<text x="536.8" y="183.1" font-size="9.8" text-anchor="end" fill="#333" >1000</text>
<text transform="translate(500.8,121.5) rotate(-90)" font-size="10" text-anchor="middle" fill="#222" >Eviscerated weight (g)</text>
<text x="569.9" y="261.1" font-size="10.1" text-anchor="middle" fill="#222" >CC</text>
<text x="614.4" y="261.1" font-size="10.1" text-anchor="middle" fill="#222" >CT</text>
<text x="659.5" y="261.1" font-size="10.1" text-anchor="middle" fill="#222" >TT</text>
<path d="M578.7,151.8 C579.2,153 581,156.7 582,159.1 C583,161.5 583.5,163.6 584.4,166.5 C585.3,169.4 587.1,173.9 587.4,176.8 C587.7,179.7 586.7,181.7 586.1,184.1 C585.5,186.5 584.6,189.1 583.9,191.5 C583.2,193.9 582.4,196.4 581.8,198.8 C581.2,201.2 580.9,203.8 580.3,206.2 C579.7,208.6 578.7,212.1 578.4,213.3 L557,213.3 C556.7,212.1 555.7,208.6 555.1,206.2 C554.5,203.8 554.2,201.2 553.6,198.8 C553,196.4 552.2,193.9 551.5,191.5 C550.8,189.1 549.9,186.5 549.3,184.1 C548.7,181.7 547.7,179.7 548,176.8 C548.3,173.9 550.1,169.4 551,166.5 C551.9,163.6 552.5,161.5 553.4,159.1 C554.4,156.7 556.2,153 556.7,151.8Z" fill="#62bb9d"/>
<path d="M613.4,108.6 C613.5,109.9 613.5,113.4 614.2,116.7 C614.9,120 616.5,124.5 617.8,128.4 C619.1,132.3 620.6,136.1 621.9,140 C623.1,143.9 624.3,147.8 625.3,151.7 C626.2,155.6 627,159.5 627.6,163.4 C628.2,167.3 628.3,171.6 628.9,175.1 C629.5,178.6 630.4,181.7 631,184.4 C631.6,187.1 632.8,189.1 632.5,191.4 C632.2,193.8 630.7,196.2 629.3,198.5 C627.9,200.8 625.9,202.8 624,205.5 C622.1,208.2 619.4,211.7 617.9,214.8 C616.4,217.9 615.9,220.4 615.2,224.2 C614.4,227.9 613.7,235.1 613.4,237.3 L612.4,237.3 C612.1,235.1 611.4,227.9 610.6,224.2 C609.9,220.4 609.4,217.9 607.9,214.8 C606.4,211.7 603.7,208.2 601.8,205.5 C599.9,202.8 597.9,200.8 596.5,198.5 C595.1,196.2 593.6,193.8 593.3,191.4 C593,189.1 594.2,187.1 594.8,184.4 C595.4,181.7 596.3,178.6 596.9,175.1 C597.5,171.6 597.6,167.3 598.2,163.4 C598.8,159.5 599.5,155.6 600.5,151.7 C601.5,147.8 602.6,143.9 603.9,140 C605.1,136.1 606.7,132.3 608,128.4 C609.3,124.5 610.9,120 611.6,116.7 C612.3,113.4 612.3,109.9 612.4,108.6Z" fill="#f58b69"/>
<path d="M658.3,69.3 C658.5,70.9 658.8,75.1 659.3,78.7 C659.8,82.3 660.5,86.3 661.4,91 C662.3,95.7 663.7,101.5 664.8,106.7 C665.9,111.9 666.9,117 667.9,122.2 C668.9,127.4 669.5,132.6 670.6,137.8 C671.7,143 673.3,148.1 674.4,153.3 C675.5,158.5 676.4,163.7 676.9,168.9 C677.4,174.1 678.1,180.3 677.5,184.4 C676.9,188.5 675.3,190.6 673.4,193.7 C671.5,196.8 668.4,199.4 666.3,203 C664.2,206.6 662.1,211 660.8,215.5 C659.5,220 658.7,227.7 658.3,230.1 L657.3,230.1 C656.9,227.7 656.1,220 654.8,215.5 C653.5,211 651.4,206.6 649.3,203 C647.2,199.4 644.1,196.8 642.2,193.7 C640.3,190.6 638.7,188.5 638.1,184.4 C637.5,180.3 638.2,174.1 638.7,168.9 C639.2,163.7 640.1,158.5 641.2,153.3 C642.2,148.1 643.9,143 645,137.8 C646.1,132.6 646.7,127.4 647.7,122.2 C648.7,117 649.7,111.9 650.8,106.7 C651.9,101.5 653.3,95.7 654.2,91 C655.1,86.3 655.8,82.3 656.3,78.7 C656.8,75.1 657.1,70.9 657.3,69.3Z" fill="#7e95c4"/>
<line x1="567.7" y1="151.9" x2="567.7" y2="213.3" stroke="#222" stroke-width="0.9" />
<line x1="561" y1="151.9" x2="574.4" y2="151.9" stroke="#222" stroke-width="0.9" />
<line x1="561" y1="213.3" x2="574.4" y2="213.3" stroke="#222" stroke-width="0.9" />
<rect x="565.2" y="173.2" width="5.1" height="22.9" fill="none" stroke="#222" stroke-width="0.8"/>
<line x1="565.2" y1="179.8" x2="570.2" y2="179.8" stroke="#222" stroke-width="0.8" />
<line x1="612.8" y1="108.5" x2="612.8" y2="237.1" stroke="#222" stroke-width="0.9" />
<line x1="606.2" y1="108.5" x2="619.4" y2="108.5" stroke="#222" stroke-width="0.9" />
<line x1="606.2" y1="237.1" x2="619.4" y2="237.1" stroke="#222" stroke-width="0.9" />
<rect x="610.2" y="159.8" width="5.1" height="35.2" fill="none" stroke="#222" stroke-width="0.8"/>
<line x1="610.2" y1="179.8" x2="615.3" y2="179.8" stroke="#222" stroke-width="0.8" />
<line x1="657.8" y1="69.3" x2="657.8" y2="230.1" stroke="#222" stroke-width="0.9" />
<line x1="651.1" y1="69.3" x2="664.5" y2="69.3" stroke="#222" stroke-width="0.9" />
<line x1="651.1" y1="230.1" x2="664.5" y2="230.1" stroke="#222" stroke-width="0.9" />
<rect x="655.1" y="138.4" width="5.3" height="47.6" fill="none" stroke="#222" stroke-width="0.8"/>
<line x1="655.1" y1="165.1" x2="660.4" y2="165.1" stroke="#222" stroke-width="0.8" />
<path d="M567.9,65.8 L567.9,60.3 L612.8,60.3 L612.8,65.8" fill="none" stroke="#333" stroke-width="0.9"/>
<path d="M567.9,49 L567.9,43.5 L657.6,43.5 L657.6,49" fill="none" stroke="#333" stroke-width="0.9"/>
<path d="M612.8,32.3 L612.8,27.4 L657.6,27.4 L657.6,32.3" fill="none" stroke="#333" stroke-width="0.9"/>
<text x="582.8" y="58.7" font-size="8.4" text-anchor="start" fill="#222" >0.64</text>
<text x="595.5" y="41.9" font-size="8.4" text-anchor="start" fill="#222" >0.11</text>
<text x="622.8" y="25.1" font-size="8.4" fill="#222" text-anchor="start">8×10<tspan font-size="5.2" dy="-3.2">-10</tspan></text>
<rect x="352.5" y="290.6" width="134" height="249.7" fill="none" stroke="#444" stroke-width="1.15"/>
<text x="347.8" y="349.9" font-size="9.9" text-anchor="end" fill="#333" >2.0</text>
<text x="347.8" y="410.6" font-size="9.9" text-anchor="end" fill="#333" >1.5</text>
<text x="347.8" y="471.7" font-size="9.9" text-anchor="end" fill="#333" >1.0</text>
<text x="347.8" y="532" font-size="9.9" text-anchor="end" fill="#333" >0.5</text>
<text transform="translate(325,413.6) rotate(-90)" font-size="10" text-anchor="middle" fill="#222" >Firefly/Renilla</text>
<text x="379.1" y="554.1" font-size="10.1" text-anchor="middle" fill="#222" >NC</text>
<text x="421" y="554.1" font-size="10.1" text-anchor="middle" fill="#222" >WT</text>
<text x="463.2" y="554.1" font-size="10.1" text-anchor="middle" fill="#222" >MT</text>
<line x1="360.9" y1="468.5" x2="394.1" y2="468.5" stroke="#333" stroke-width="2.4" />
<line x1="370.8" y1="468.5" x2="383.9" y2="468.5" stroke="#000" stroke-width="2.4" />
<line x1="419.5" y1="452.1" x2="419.5" y2="455.8" stroke="#222" stroke-width="0.75" />
<line x1="419.5" y1="461.7" x2="419.5" y2="462.1" stroke="#222" stroke-width="0.75" />
<line x1="413.1" y1="452.1" x2="425.9" y2="452.1" stroke="#222" stroke-width="0.75" />
<line x1="413.1" y1="462.1" x2="425.9" y2="462.1" stroke="#222" stroke-width="0.75" />
<rect x="403.4" y="455.8" width="32.2" height="5.9" fill="#b3b3dc" stroke="#333" stroke-width="0.75"/>
<line x1="419.5" y1="455.8" x2="419.5" y2="461.7" stroke="#222" stroke-width="0.75" />
<line x1="403.4" y1="459.8" x2="435.6" y2="459.8" stroke="#222" stroke-width="0.75" />
<line x1="403.4" y1="458.3" x2="435.6" y2="458.3" stroke="#555" stroke-width="0.6" />
<line x1="461.5" y1="336.5" x2="461.5" y2="357.6" stroke="#222" stroke-width="0.9" />
<line x1="461.5" y1="373.6" x2="461.5" y2="377.5" stroke="#222" stroke-width="0.9" />
<line x1="455.3" y1="336.5" x2="467.7" y2="336.5" stroke="#222" stroke-width="0.9" />
<line x1="455.3" y1="377.5" x2="467.7" y2="377.5" stroke="#222" stroke-width="0.9" />
<rect x="445.5" y="357.6" width="32" height="16" fill="#7ccbbb" stroke="#333" stroke-width="0.9"/>
<line x1="461.5" y1="357.6" x2="461.5" y2="373.6" stroke="#222" stroke-width="0.9" />
<line x1="445.5" y1="368.5" x2="477.5" y2="368.5" stroke="#222" stroke-width="0.9" />
<g fill="#111"><circle cx="377.1" cy="412.8" r="2.3"/><circle cx="376" cy="430.1" r="2.3"/><circle cx="378.6" cy="507.8" r="2.3"/><circle cx="379" cy="527.7" r="2.3"/><circle cx="420.9" cy="412.8" r="2.3"/><circle cx="420.9" cy="430.1" r="2.3"/><circle cx="419.3" cy="481.4" r="2.3"/><circle cx="418.6" cy="510.8" r="2.3"/><circle cx="459.3" cy="401.5" r="2.3"/><circle cx="464" cy="326.2" r="2.3"/><circle cx="462.5" cy="351.1" r="2.3"/><circle cx="462.5" cy="357.3" r="2.3"/></g>
<path d="M377.4,333.8 L377.4,329.6 L419.5,329.6 L419.5,333.8" fill="none" stroke="#333" stroke-width="0.9"/>
<path d="M377.4,320.8 L377.4,316.6 L461.4,316.6 L461.4,320.8" fill="none" stroke="#333" stroke-width="0.9"/>
<path d="M419.5,307.4 L419.5,303.3 L461.4,303.3 L461.4,307.4" fill="none" stroke="#333" stroke-width="0.9"/>
<text x="385.7" y="327.7" font-size="8.4" text-anchor="start" fill="#222" >0.016</text>
<text x="419.8" y="315.2" font-size="8.4" fill="#222" text-anchor="start">1.3×10<tspan font-size="5.2" dy="-3.2">-3</tspan></text>
<text x="423.1" y="301.3" font-size="8.4" fill="#222" text-anchor="start">1.2×10<tspan font-size="5.2" dy="-3.2">-3</tspan></text>
<rect x="546.6" y="290.5" width="136.8" height="249.8" fill="none" stroke="#444" stroke-width="1.15"/>
<text x="542.8" y="376.7" font-size="10" text-anchor="end" fill="#333" >40</text>
<text x="542.8" y="464.4" font-size="10" text-anchor="end" fill="#333" >30</text>
<text transform="translate(525.6,400.1) rotate(-90)" font-size="10" text-anchor="middle" fill="#222" ><tspan font-style="italic">NCAPG</tspan> in duodenum (TPM)</text>
<text x="585.5" y="553.4" font-size="10.1" text-anchor="middle" fill="#222" >CC</text>
<text x="647.8" y="553.4" font-size="10.1" text-anchor="middle" fill="#222" >CT</text>
<path d="M599.9,394.4 C601.2,396.3 605.9,401.8 607.8,406 C609.7,410.2 612,414.7 611.2,419.5 C610.4,424.3 605.7,430 602.8,434.8 C599.9,439.6 595.6,443.4 593.6,448.5 C591.6,453.6 591.6,459.9 591,465.6 C590.4,471.3 590.3,477 590.1,482.7 C589.9,488.4 589.2,495.2 589.6,499.8 C589.9,504.4 591.9,506.6 592.2,510 C592.5,513.4 591.6,517.5 591.3,520.4 C591,523.3 590.5,526.1 590.3,527.2 L576.3,527.2 C576.1,526.1 575.6,523.3 575.3,520.4 C575,517.5 574.1,513.4 574.4,510 C574.7,506.6 576.6,504.4 577,499.8 C577.4,495.2 576.7,488.4 576.5,482.7 C576.3,477 576.2,471.3 575.6,465.6 C575,459.9 575,453.6 573,448.5 C571,443.4 566.7,439.6 563.8,434.8 C560.9,430 556.2,424.3 555.4,419.5 C554.6,414.7 556.9,410.2 558.8,406 C560.7,401.8 565.4,396.3 566.7,394.4Z" fill="#62bb9d"/>
<path d="M657.9,313.8 C658.8,315.2 661.7,318.4 663.5,322 C665.3,325.6 667.1,328.6 668.9,335.4 C670.7,342.2 674.1,353.8 674.2,363 C674.3,372.2 670.9,383.9 669.3,390.8 C667.7,397.7 665.7,400 664.5,404.6 C663.3,409.2 662.6,414 662.3,418.5 C662,423 662.8,427 662.8,431.4 C662.8,435.8 662.5,442 662.5,445 C662.5,448 662.5,448.5 662.5,449.2 L630.5,449.2 C630.5,448.5 630.5,448 630.5,445 C630.5,442 630.2,435.8 630.2,431.4 C630.2,427 631,423 630.7,418.5 C630.4,414 629.7,409.2 628.5,404.6 C627.3,400 625.3,397.7 623.7,390.8 C622.1,383.9 618.7,372.2 618.8,363 C618.9,353.8 622.3,342.2 624.1,335.4 C625.9,328.6 627.7,325.6 629.5,322 C631.3,318.4 634.2,315.2 635.1,313.8Z" fill="#f58b69"/>
<line x1="583.3" y1="394.4" x2="583.3" y2="508.7" stroke="#222" stroke-width="0.9" />
<line x1="574.4" y1="394.4" x2="592.2" y2="394.4" stroke="#222" stroke-width="0.9" />
<line x1="574.4" y1="508.7" x2="592.2" y2="508.7" stroke="#222" stroke-width="0.9" />
<rect x="580.2" y="417.7" width="6.2" height="40.3" fill="none" stroke="#222" stroke-width="0.8"/>
<line x1="580.2" y1="427.9" x2="586.4" y2="427.9" stroke="#222" stroke-width="0.8" />
<line x1="646.5" y1="313.8" x2="646.5" y2="449.2" stroke="#222" stroke-width="0.9" />
<line x1="637.2" y1="313.8" x2="655.8" y2="313.8" stroke="#222" stroke-width="0.9" />
<line x1="637.2" y1="449.2" x2="655.8" y2="449.2" stroke="#222" stroke-width="0.9" />
<rect x="643.3" y="351.4" width="6.4" height="51.8" fill="none" stroke="#222" stroke-width="0.8"/>
<line x1="643.3" y1="376.4" x2="649.7" y2="376.4" stroke="#222" stroke-width="0.8" />
<circle cx="583.3" cy="527.9" r="1.2" fill="#222"/>
<path d="M583.4,309.1 L583.4,303 L646.5,303 L646.5,309.1" fill="none" stroke="#333" stroke-width="0.9"/>
<text x="605.5" y="301.3" font-size="8.4" text-anchor="start" fill="#222" >0.013</text>
</svg></body></html>
